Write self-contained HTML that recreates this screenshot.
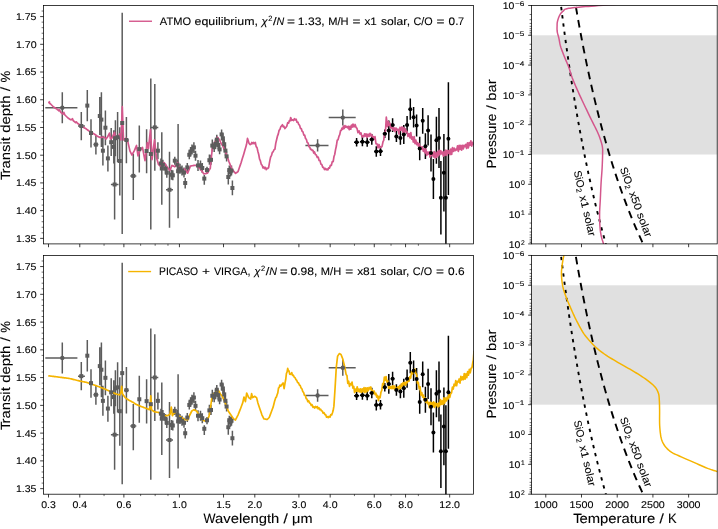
<!DOCTYPE html>
<html><head><meta charset="utf-8"><style>
html,body{margin:0;padding:0;background:#fff;}
svg{display:block;filter:blur(0.35px);}
text{font-family:"Liberation Sans", sans-serif;fill:#000;text-rendering:geometricPrecision;stroke:#000;stroke-width:0.1px;}
</style></head><body>
<svg width="718" height="529" viewBox="0 0 718 529">
<rect width="718" height="529" fill="#fff"/>
<rect x="531.50" y="35.30" width="185.70" height="119.20" fill="#e0e0e0"/>
<rect x="531.50" y="285.29" width="185.70" height="119.38" fill="#e0e0e0"/>
<defs>
<clipPath id="ctl"><rect x="43.50" y="5.50" width="430.00" height="238.40"/></clipPath>
<clipPath id="cbl"><rect x="43.50" y="255.45" width="430.00" height="238.75"/></clipPath>
<clipPath id="ctr"><rect x="531.50" y="5.50" width="185.70" height="238.40"/></clipPath>
<clipPath id="cbr"><rect x="531.50" y="255.45" width="185.70" height="238.75"/></clipPath>
</defs>
<g clip-path="url(#ctr)">
<path d="M560.98,5.50 L561.17,6.99 L561.35,8.48 L561.54,9.97 L561.73,11.46 L561.91,12.95 L562.10,14.44 L562.29,15.93 L562.49,17.42 L562.68,18.91 L562.87,20.40 L563.06,21.89 L563.26,23.38 L563.45,24.87 L563.65,26.36 L563.84,27.85 L564.04,29.34 L564.24,30.83 L564.44,32.32 L564.64,33.81 L564.84,35.30 L565.04,36.79 L565.25,38.28 L565.45,39.77 L565.66,41.26 L565.86,42.75 L566.07,44.24 L566.28,45.73 L566.48,47.22 L566.69,48.71 L566.90,50.20 L567.12,51.69 L567.33,53.18 L567.54,54.67 L567.76,56.16 L567.97,57.65 L568.19,59.14 L568.41,60.63 L568.62,62.12 L568.84,63.61 L569.06,65.10 L569.28,66.59 L569.51,68.08 L569.73,69.57 L569.96,71.06 L570.18,72.55 L570.41,74.04 L570.64,75.53 L570.86,77.02 L571.09,78.51 L571.33,80.00 L571.56,81.49 L571.79,82.98 L572.02,84.47 L572.26,85.96 L572.50,87.45 L572.73,88.94 L572.97,90.43 L573.21,91.92 L573.46,93.41 L573.70,94.90 L573.94,96.39 L574.19,97.88 L574.43,99.37 L574.68,100.86 L574.93,102.35 L575.18,103.84 L575.43,105.33 L575.68,106.82 L575.93,108.31 L576.19,109.80 L576.45,111.29 L576.70,112.78 L576.96,114.27 L577.22,115.76 L577.48,117.25 L577.74,118.74 L578.01,120.23 L578.27,121.72 L578.54,123.21 L578.81,124.70 L579.08,126.19 L579.35,127.68 L579.62,129.17 L579.89,130.66 L580.17,132.15 L580.45,133.64 L580.72,135.13 L581.00,136.62 L581.28,138.11 L581.57,139.60 L581.85,141.09 L582.14,142.58 L582.42,144.07 L582.71,145.56 L583.00,147.05 L583.29,148.54 L583.59,150.03 L583.88,151.52 L584.18,153.01 L584.47,154.50 L584.77,155.99 L585.08,157.48 L585.38,158.97 L585.68,160.46 L585.99,161.95 L586.30,163.44 L586.61,164.93 L586.92,166.42 L587.23,167.91 L587.54,169.40 L587.86,170.89 L588.18,172.38 L588.50,173.87 L588.82,175.36 L589.14,176.85 L589.47,178.34 L589.80,179.83 L590.13,181.32 L590.46,182.81 L590.79,184.30 L591.13,185.79 L591.46,187.28 L591.80,188.77 L592.14,190.26 L592.48,191.75 L592.83,193.24 L593.18,194.73 L593.52,196.22 L593.88,197.71 L594.23,199.20 L594.58,200.69 L594.94,202.18 L595.30,203.67 L595.66,205.16 L596.02,206.65 L596.39,208.14 L596.76,209.63 L597.13,211.12 L597.50,212.61 L597.88,214.10 L598.25,215.59 L598.63,217.08 L599.01,218.57 L599.40,220.06 L599.78,221.55 L600.17,223.04 L600.56,224.53 L600.96,226.02 L601.35,227.51 L601.75,229.00 L602.15,230.49 L602.56,231.98 L602.96,233.47 L603.37,234.96 L603.78,236.45 L604.20,237.94 L604.61,239.43 L605.03,240.92 L605.45,242.41 L605.88,243.90" fill="none" stroke="#000" stroke-width="1.90" stroke-linejoin="round" stroke-dasharray="3.4 4.9" stroke-dashoffset="6.9"/>
<path d="M575.67,5.50 L575.92,6.99 L576.18,8.48 L576.43,9.97 L576.69,11.46 L576.95,12.95 L577.21,14.44 L577.47,15.93 L577.74,17.42 L578.00,18.91 L578.26,20.40 L578.53,21.89 L578.80,23.38 L579.07,24.87 L579.34,26.36 L579.61,27.85 L579.89,29.34 L580.16,30.83 L580.44,32.32 L580.72,33.81 L581.00,35.30 L581.28,36.79 L581.56,38.28 L581.84,39.77 L582.13,41.26 L582.42,42.75 L582.71,44.24 L583.00,45.73 L583.29,47.22 L583.58,48.71 L583.88,50.20 L584.17,51.69 L584.47,53.18 L584.77,54.67 L585.07,56.16 L585.38,57.65 L585.68,59.14 L585.99,60.63 L586.29,62.12 L586.60,63.61 L586.92,65.10 L587.23,66.59 L587.54,68.08 L587.86,69.57 L588.18,71.06 L588.50,72.55 L588.82,74.04 L589.15,75.53 L589.47,77.02 L589.80,78.51 L590.13,80.00 L590.46,81.49 L590.79,82.98 L591.13,84.47 L591.47,85.96 L591.80,87.45 L592.15,88.94 L592.49,90.43 L592.83,91.92 L593.18,93.41 L593.53,94.90 L593.88,96.39 L594.23,97.88 L594.59,99.37 L594.95,100.86 L595.31,102.35 L595.67,103.84 L596.03,105.33 L596.40,106.82 L596.77,108.31 L597.14,109.80 L597.51,111.29 L597.89,112.78 L598.26,114.27 L598.64,115.76 L599.02,117.25 L599.41,118.74 L599.80,120.23 L600.18,121.72 L600.58,123.21 L600.97,124.70 L601.37,126.19 L601.77,127.68 L602.17,129.17 L602.57,130.66 L602.98,132.15 L603.39,133.64 L603.80,135.13 L604.21,136.62 L604.63,138.11 L605.05,139.60 L605.47,141.09 L605.90,142.58 L606.33,144.07 L606.76,145.56 L607.19,147.05 L607.63,148.54 L608.07,150.03 L608.51,151.52 L608.95,153.01 L609.40,154.50 L609.85,155.99 L610.31,157.48 L610.76,158.97 L611.22,160.46 L611.69,161.95 L612.15,163.44 L612.62,164.93 L613.10,166.42 L613.57,167.91 L614.05,169.40 L614.54,170.89 L615.02,172.38 L615.51,173.87 L616.00,175.36 L616.50,176.85 L617.00,178.34 L617.50,179.83 L618.01,181.32 L618.52,182.81 L619.04,184.30 L619.55,185.79 L620.08,187.28 L620.60,188.77 L621.13,190.26 L621.66,191.75 L622.20,193.24 L622.74,194.73 L623.29,196.22 L623.84,197.71 L624.39,199.20 L624.95,200.69 L625.51,202.18 L626.07,203.67 L626.64,205.16 L627.22,206.65 L627.79,208.14 L628.38,209.63 L628.96,211.12 L629.56,212.61 L630.15,214.10 L630.75,215.59 L631.36,217.08 L631.97,218.57 L632.58,220.06 L633.20,221.55 L633.83,223.04 L634.46,224.53 L635.09,226.02 L635.73,227.51 L636.38,229.00 L637.03,230.49 L637.68,231.98 L638.34,233.47 L639.01,234.96 L639.68,236.45 L640.35,237.94 L641.04,239.43 L641.72,240.92 L642.42,242.41 L643.12,243.90" fill="none" stroke="#000" stroke-width="1.90" stroke-linejoin="round" stroke-dasharray="7.6 5.6" stroke-dashoffset="11.7"/>
<path d="M640.00,2.50 L636.67,2.75 L632.09,3.09 L626.62,3.49 L620.62,3.94 L614.46,4.40 L608.48,4.84 L603.04,5.25 L598.50,5.60 L594.74,5.89 L591.36,6.15 L588.32,6.38 L585.56,6.60 L583.05,6.80 L580.73,7.00 L578.57,7.20 L576.50,7.40 L574.58,7.60 L572.88,7.78 L571.37,7.96 L570.04,8.14 L568.85,8.31 L567.80,8.50 L566.86,8.69 L566.00,8.90 L565.29,9.13 L564.79,9.36 L564.43,9.61 L564.18,9.87 L564.00,10.13 L563.84,10.39 L563.65,10.65 L563.40,10.90 L563.10,11.15 L562.81,11.38 L562.52,11.62 L562.24,11.86 L561.97,12.10 L561.71,12.35 L561.45,12.62 L561.20,12.90 L560.96,13.20 L560.73,13.51 L560.51,13.83 L560.29,14.17 L560.09,14.51 L559.89,14.87 L559.69,15.23 L559.50,15.60 L559.32,15.98 L559.14,16.38 L558.97,16.79 L558.80,17.21 L558.64,17.63 L558.49,18.05 L558.34,18.48 L558.20,18.90 L558.06,19.32 L557.93,19.75 L557.80,20.18 L557.68,20.61 L557.57,21.04 L557.47,21.46 L557.38,21.88 L557.30,22.30 L557.24,22.69 L557.19,23.05 L557.16,23.39 L557.14,23.74 L557.12,24.10 L557.11,24.51 L557.11,24.97 L557.10,25.50 L557.09,26.11 L557.07,26.78 L557.05,27.51 L557.03,28.27 L557.03,29.07 L557.06,29.88 L557.11,30.69 L557.20,31.50 L557.34,32.31 L557.52,33.15 L557.74,34.00 L557.98,34.86 L558.22,35.72 L558.47,36.59 L558.70,37.45 L558.90,38.30 L559.08,39.15 L559.25,40.02 L559.40,40.89 L559.56,41.76 L559.71,42.62 L559.86,43.45 L560.03,44.24 L560.20,45.00 L560.37,45.68 L560.54,46.29 L560.71,46.86 L560.88,47.41 L561.07,47.97 L561.28,48.56 L561.52,49.23 L561.80,50.00 L562.12,50.87 L562.48,51.82 L562.87,52.83 L563.27,53.88 L563.70,54.96 L564.13,56.05 L564.57,57.14 L565.00,58.20 L565.44,59.26 L565.90,60.33 L566.38,61.42 L566.86,62.51 L567.33,63.59 L567.78,64.65 L568.21,65.69 L568.60,66.70 L568.95,67.67 L569.26,68.61 L569.54,69.53 L569.81,70.43 L570.07,71.32 L570.33,72.20 L570.60,73.10 L570.90,74.00 L571.20,74.87 L571.48,75.70 L571.76,76.50 L572.04,77.31 L572.36,78.16 L572.71,79.09 L573.12,80.12 L573.60,81.30 L574.16,82.64 L574.79,84.13 L575.48,85.73 L576.21,87.40 L576.97,89.11 L577.73,90.82 L578.48,92.50 L579.20,94.10 L579.91,95.65 L580.62,97.18 L581.33,98.69 L582.04,100.20 L582.76,101.70 L583.47,103.20 L584.19,104.70 L584.90,106.20 L585.61,107.70 L586.31,109.19 L587.01,110.67 L587.71,112.16 L588.41,113.65 L589.13,115.15 L589.85,116.66 L590.60,118.20 L591.39,119.79 L592.22,121.44 L593.08,123.13 L593.94,124.82 L594.79,126.48 L595.59,128.08 L596.34,129.60 L597.00,131.00 L597.58,132.28 L598.09,133.45 L598.56,134.55 L598.98,135.58 L599.36,136.57 L599.72,137.55 L600.06,138.51 L600.40,139.50 L600.73,140.49 L601.04,141.45 L601.33,142.40 L601.60,143.33 L601.84,144.25 L602.06,145.17 L602.25,146.08 L602.40,147.00 L602.52,147.87 L602.59,148.66 L602.64,149.41 L602.66,150.18 L602.66,151.00 L602.64,151.91 L602.62,152.97 L602.60,154.20 L602.57,155.64 L602.54,157.26 L602.49,159.01 L602.43,160.86 L602.35,162.77 L602.28,164.69 L602.19,166.58 L602.10,168.40 L602.00,170.16 L601.88,171.88 L601.75,173.60 L601.62,175.33 L601.48,177.07 L601.35,178.85 L601.22,180.69 L601.10,182.60 L600.99,184.61 L600.88,186.72 L600.78,188.90 L600.68,191.11 L600.58,193.32 L600.49,195.50 L600.39,197.60 L600.30,199.60 L600.20,201.50 L600.09,203.32 L599.98,205.09 L599.88,206.81 L599.78,208.51 L599.70,210.20 L599.63,211.89 L599.60,213.60 L599.59,215.35 L599.60,217.13 L599.63,218.93 L599.68,220.71 L599.74,222.45 L599.81,224.13 L599.90,225.72 L600.00,227.20 L600.11,228.56 L600.24,229.83 L600.38,231.01 L600.53,232.12 L600.70,233.20 L600.88,234.24 L601.08,235.27 L601.30,236.30 L601.55,237.36 L601.84,238.43 L602.15,239.50 L602.48,240.54 L602.80,241.52 L603.10,242.42 L603.37,243.22 L603.60,243.90 L603.79,244.44 L603.94,244.86 L604.08,245.18 L604.19,245.42 L604.29,245.61 L604.37,245.75 L604.44,245.88 L604.50,246.00" fill="none" stroke="#d4578c" stroke-width="1.50" stroke-linejoin="round"/>
</g>
<g clip-path="url(#cbr)">
<path d="M560.98,255.45 L561.17,256.94 L561.35,258.43 L561.54,259.93 L561.73,261.42 L561.91,262.91 L562.10,264.40 L562.29,265.90 L562.49,267.39 L562.68,268.88 L562.87,270.37 L563.06,271.86 L563.26,273.36 L563.45,274.85 L563.65,276.34 L563.84,277.83 L564.04,279.32 L564.24,280.82 L564.44,282.31 L564.64,283.80 L564.84,285.29 L565.04,286.79 L565.25,288.28 L565.45,289.77 L565.66,291.26 L565.86,292.75 L566.07,294.25 L566.28,295.74 L566.48,297.23 L566.69,298.72 L566.90,300.22 L567.12,301.71 L567.33,303.20 L567.54,304.69 L567.76,306.18 L567.97,307.68 L568.19,309.17 L568.41,310.66 L568.62,312.15 L568.84,313.65 L569.06,315.14 L569.28,316.63 L569.51,318.12 L569.73,319.61 L569.96,321.11 L570.18,322.60 L570.41,324.09 L570.64,325.58 L570.86,327.07 L571.09,328.57 L571.33,330.06 L571.56,331.55 L571.79,333.04 L572.02,334.54 L572.26,336.03 L572.50,337.52 L572.73,339.01 L572.97,340.50 L573.21,342.00 L573.46,343.49 L573.70,344.98 L573.94,346.47 L574.19,347.97 L574.43,349.46 L574.68,350.95 L574.93,352.44 L575.18,353.93 L575.43,355.43 L575.68,356.92 L575.93,358.41 L576.19,359.90 L576.45,361.40 L576.70,362.89 L576.96,364.38 L577.22,365.87 L577.48,367.36 L577.74,368.86 L578.01,370.35 L578.27,371.84 L578.54,373.33 L578.81,374.82 L579.08,376.32 L579.35,377.81 L579.62,379.30 L579.89,380.79 L580.17,382.29 L580.45,383.78 L580.72,385.27 L581.00,386.76 L581.28,388.25 L581.57,389.75 L581.85,391.24 L582.14,392.73 L582.42,394.22 L582.71,395.72 L583.00,397.21 L583.29,398.70 L583.59,400.19 L583.88,401.68 L584.18,403.18 L584.47,404.67 L584.77,406.16 L585.08,407.65 L585.38,409.15 L585.68,410.64 L585.99,412.13 L586.30,413.62 L586.61,415.11 L586.92,416.61 L587.23,418.10 L587.54,419.59 L587.86,421.08 L588.18,422.58 L588.50,424.07 L588.82,425.56 L589.14,427.05 L589.47,428.54 L589.80,430.04 L590.13,431.53 L590.46,433.02 L590.79,434.51 L591.13,436.00 L591.46,437.50 L591.80,438.99 L592.14,440.48 L592.48,441.97 L592.83,443.47 L593.18,444.96 L593.52,446.45 L593.88,447.94 L594.23,449.43 L594.58,450.93 L594.94,452.42 L595.30,453.91 L595.66,455.40 L596.02,456.90 L596.39,458.39 L596.76,459.88 L597.13,461.37 L597.50,462.86 L597.88,464.36 L598.25,465.85 L598.63,467.34 L599.01,468.83 L599.40,470.32 L599.78,471.82 L600.17,473.31 L600.56,474.80 L600.96,476.29 L601.35,477.79 L601.75,479.28 L602.15,480.77 L602.56,482.26 L602.96,483.75 L603.37,485.25 L603.78,486.74 L604.20,488.23 L604.61,489.72 L605.03,491.22 L605.45,492.71 L605.88,494.20" fill="none" stroke="#000" stroke-width="1.90" stroke-linejoin="round" stroke-dasharray="3.4 4.9" stroke-dashoffset="6.9"/>
<path d="M575.67,255.45 L575.92,256.94 L576.18,258.43 L576.43,259.93 L576.69,261.42 L576.95,262.91 L577.21,264.40 L577.47,265.90 L577.74,267.39 L578.00,268.88 L578.26,270.37 L578.53,271.86 L578.80,273.36 L579.07,274.85 L579.34,276.34 L579.61,277.83 L579.89,279.32 L580.16,280.82 L580.44,282.31 L580.72,283.80 L581.00,285.29 L581.28,286.79 L581.56,288.28 L581.84,289.77 L582.13,291.26 L582.42,292.75 L582.71,294.25 L583.00,295.74 L583.29,297.23 L583.58,298.72 L583.88,300.22 L584.17,301.71 L584.47,303.20 L584.77,304.69 L585.07,306.18 L585.38,307.68 L585.68,309.17 L585.99,310.66 L586.29,312.15 L586.60,313.65 L586.92,315.14 L587.23,316.63 L587.54,318.12 L587.86,319.61 L588.18,321.11 L588.50,322.60 L588.82,324.09 L589.15,325.58 L589.47,327.07 L589.80,328.57 L590.13,330.06 L590.46,331.55 L590.79,333.04 L591.13,334.54 L591.47,336.03 L591.80,337.52 L592.15,339.01 L592.49,340.50 L592.83,342.00 L593.18,343.49 L593.53,344.98 L593.88,346.47 L594.23,347.97 L594.59,349.46 L594.95,350.95 L595.31,352.44 L595.67,353.93 L596.03,355.43 L596.40,356.92 L596.77,358.41 L597.14,359.90 L597.51,361.40 L597.89,362.89 L598.26,364.38 L598.64,365.87 L599.02,367.36 L599.41,368.86 L599.80,370.35 L600.18,371.84 L600.58,373.33 L600.97,374.82 L601.37,376.32 L601.77,377.81 L602.17,379.30 L602.57,380.79 L602.98,382.29 L603.39,383.78 L603.80,385.27 L604.21,386.76 L604.63,388.25 L605.05,389.75 L605.47,391.24 L605.90,392.73 L606.33,394.22 L606.76,395.72 L607.19,397.21 L607.63,398.70 L608.07,400.19 L608.51,401.68 L608.95,403.18 L609.40,404.67 L609.85,406.16 L610.31,407.65 L610.76,409.15 L611.22,410.64 L611.69,412.13 L612.15,413.62 L612.62,415.11 L613.10,416.61 L613.57,418.10 L614.05,419.59 L614.54,421.08 L615.02,422.58 L615.51,424.07 L616.00,425.56 L616.50,427.05 L617.00,428.54 L617.50,430.04 L618.01,431.53 L618.52,433.02 L619.04,434.51 L619.55,436.00 L620.08,437.50 L620.60,438.99 L621.13,440.48 L621.66,441.97 L622.20,443.47 L622.74,444.96 L623.29,446.45 L623.84,447.94 L624.39,449.43 L624.95,450.93 L625.51,452.42 L626.07,453.91 L626.64,455.40 L627.22,456.90 L627.79,458.39 L628.38,459.88 L628.96,461.37 L629.56,462.86 L630.15,464.36 L630.75,465.85 L631.36,467.34 L631.97,468.83 L632.58,470.32 L633.20,471.82 L633.83,473.31 L634.46,474.80 L635.09,476.29 L635.73,477.79 L636.38,479.28 L637.03,480.77 L637.68,482.26 L638.34,483.75 L639.01,485.25 L639.68,486.74 L640.35,488.23 L641.04,489.72 L641.72,491.22 L642.42,492.71 L643.12,494.20" fill="none" stroke="#000" stroke-width="1.90" stroke-linejoin="round" stroke-dasharray="7.6 5.6" stroke-dashoffset="11.7"/>
<path d="M566.50,250.00 L566.30,250.38 L566.02,250.84 L565.69,251.38 L565.33,252.00 L564.95,252.72 L564.57,253.53 L564.21,254.44 L563.90,255.45 L563.61,256.62 L563.32,257.98 L563.04,259.47 L562.76,261.03 L562.51,262.62 L562.27,264.18 L562.07,265.66 L561.90,267.00 L561.76,268.19 L561.65,269.27 L561.55,270.28 L561.49,271.26 L561.45,272.23 L561.44,273.24 L561.45,274.32 L561.50,275.50 L561.57,276.79 L561.67,278.15 L561.80,279.57 L561.95,281.03 L562.13,282.50 L562.35,283.99 L562.61,285.46 L562.90,286.90 L563.24,288.32 L563.61,289.73 L564.03,291.14 L564.48,292.55 L564.96,293.96 L565.46,295.37 L565.97,296.78 L566.50,298.20 L567.05,299.63 L567.64,301.07 L568.25,302.51 L568.88,303.96 L569.51,305.39 L570.15,306.82 L570.78,308.22 L571.40,309.60 L571.99,310.93 L572.54,312.20 L573.08,313.43 L573.63,314.66 L574.20,315.91 L574.81,317.20 L575.47,318.55 L576.20,320.00 L577.00,321.56 L577.84,323.21 L578.73,324.94 L579.66,326.71 L580.64,328.48 L581.65,330.24 L582.71,331.96 L583.80,333.60 L584.95,335.19 L586.16,336.77 L587.43,338.34 L588.73,339.87 L590.05,341.36 L591.38,342.80 L592.70,344.19 L594.00,345.50 L595.25,346.72 L596.45,347.84 L597.64,348.90 L598.83,349.91 L600.07,350.90 L601.37,351.89 L602.77,352.92 L604.30,354.00 L605.98,355.14 L607.81,356.33 L609.75,357.53 L611.74,358.75 L613.77,359.96 L615.78,361.15 L617.73,362.30 L619.60,363.40 L621.39,364.44 L623.16,365.45 L624.90,366.42 L626.61,367.36 L628.30,368.29 L629.96,369.22 L631.59,370.15 L633.20,371.10 L634.79,372.05 L636.35,373.00 L637.90,373.95 L639.41,374.90 L640.90,375.85 L642.34,376.80 L643.74,377.75 L645.10,378.70 L646.43,379.66 L647.75,380.64 L649.05,381.62 L650.30,382.60 L651.49,383.57 L652.60,384.54 L653.61,385.48 L654.50,386.40 L655.27,387.29 L655.93,388.16 L656.50,389.02 L656.98,389.86 L657.40,390.69 L657.76,391.52 L658.09,392.36 L658.40,393.20 L658.66,394.03 L658.85,394.82 L658.98,395.61 L659.07,396.40 L659.14,397.22 L659.19,398.07 L659.24,399.00 L659.30,400.00 L659.37,401.05 L659.42,402.10 L659.46,403.19 L659.49,404.33 L659.52,405.56 L659.55,406.90 L659.57,408.37 L659.60,410.00 L659.61,411.85 L659.60,413.93 L659.58,416.17 L659.56,418.50 L659.56,420.86 L659.59,423.20 L659.67,425.43 L659.80,427.50 L659.97,429.45 L660.15,431.36 L660.36,433.21 L660.61,435.01 L660.92,436.75 L661.29,438.41 L661.75,440.00 L662.30,441.50 L662.95,442.91 L663.70,444.25 L664.52,445.50 L665.42,446.69 L666.37,447.80 L667.38,448.86 L668.42,449.86 L669.50,450.80 L670.61,451.66 L671.76,452.41 L672.96,453.09 L674.20,453.71 L675.49,454.31 L676.84,454.91 L678.24,455.53 L679.70,456.20 L681.24,456.91 L682.86,457.64 L684.55,458.37 L686.29,459.11 L688.05,459.86 L689.82,460.61 L691.58,461.35 L693.30,462.10 L695.02,462.86 L696.78,463.65 L698.55,464.46 L700.31,465.26 L702.04,466.04 L703.73,466.78 L705.36,467.47 L706.90,468.10 L708.36,468.66 L709.77,469.15 L711.11,469.60 L712.41,470.02 L713.67,470.41 L714.88,470.77 L716.05,471.14 L717.20,471.50 L718.35,471.87 L719.51,472.25 L720.65,472.61 L721.74,472.96 L722.76,473.29 L723.66,473.57 L724.42,473.81 L725.00,474.00" fill="none" stroke="#f5b400" stroke-width="1.50" stroke-linejoin="round"/>
</g>
<g transform="translate(573.70,171.20) rotate(77.00)">
<text x="0.21" y="0.00" font-size="10.66" textLength="17.34" lengthAdjust="spacingAndGlyphs">SiO</text>
<text x="17.89" y="1.64" font-size="7.46" textLength="4.09" lengthAdjust="spacingAndGlyphs">2</text>
<text x="26.10" y="0.00" font-size="10.66" textLength="12.18" lengthAdjust="spacingAndGlyphs">x1</text>
<text x="42.22" y="0.00" font-size="10.66" textLength="25.18" lengthAdjust="spacingAndGlyphs">solar</text>
</g>
<g transform="translate(619.80,168.60) rotate(69.60)">
<text x="0.21" y="0.00" font-size="10.66" textLength="17.34" lengthAdjust="spacingAndGlyphs">SiO</text>
<text x="17.89" y="1.64" font-size="7.46" textLength="4.09" lengthAdjust="spacingAndGlyphs">2</text>
<text x="26.10" y="0.00" font-size="10.66" textLength="18.92" lengthAdjust="spacingAndGlyphs">x50</text>
<text x="48.82" y="0.00" font-size="10.66" textLength="25.18" lengthAdjust="spacingAndGlyphs">solar</text>
</g>
<g transform="translate(573.70,421.15) rotate(77.00)">
<text x="0.21" y="0.00" font-size="10.66" textLength="17.34" lengthAdjust="spacingAndGlyphs">SiO</text>
<text x="17.89" y="1.64" font-size="7.46" textLength="4.09" lengthAdjust="spacingAndGlyphs">2</text>
<text x="26.10" y="0.00" font-size="10.66" textLength="12.18" lengthAdjust="spacingAndGlyphs">x1</text>
<text x="42.22" y="0.00" font-size="10.66" textLength="25.18" lengthAdjust="spacingAndGlyphs">solar</text>
</g>
<g transform="translate(619.80,418.55) rotate(69.60)">
<text x="0.21" y="0.00" font-size="10.66" textLength="17.34" lengthAdjust="spacingAndGlyphs">SiO</text>
<text x="17.89" y="1.64" font-size="7.46" textLength="4.09" lengthAdjust="spacingAndGlyphs">2</text>
<text x="26.10" y="0.00" font-size="10.66" textLength="18.92" lengthAdjust="spacingAndGlyphs">x50</text>
<text x="48.82" y="0.00" font-size="10.66" textLength="25.18" lengthAdjust="spacingAndGlyphs">solar</text>
</g>
<g clip-path="url(#ctl)">
<path d="M62.30,92.30V123.30M45.30,107.80H77.40M81.30,111.90V140.20M78.00,126.00H84.90M87.30,90.00V121.30M91.00,119.20V147.50M95.90,135.50V154.50M93.40,144.60H98.40M99.80,97.10V135.00M101.40,92.30V147.00M102.90,135.70V165.60M105.40,110.40V145.20M107.90,145.50V171.50M111.20,128.10V156.00M113.80,130.20V163.50M114.60,149.60V219.40M110.90,184.50H118.50M115.40,120.20V156.20M117.60,112.10V162.30M119.80,127.20V195.50M122.20,12.80V233.90M126.40,117.00V163.20M124.00,140.00H128.80M133.30,153.80V200.00M130.30,175.90H136.30M139.30,125.50V172.60M146.60,129.20V173.30M150.80,78.40V229.40M154.80,84.10V170.70M151.50,127.40H158.30M157.90,142.30V159.30M160.90,158.50V168.50M161.80,132.30V204.80M162.90,159.80V169.80M165.50,163.70V173.70M166.80,167.70V177.70M169.50,151.80V227.80M166.00,189.80H173.00M171.50,169.70V179.70M172.80,170.30V180.30M174.80,156.70V164.70M177.40,159.70V169.70M178.10,124.10V218.30M180.00,163.70V173.70M182.00,165.60V175.60M184.00,167.60V177.60M185.20,177.90V188.40M187.30,162.90V171.90M189.30,150.30V159.30M190.60,147.00V156.00M192.00,144.60V154.60M193.90,142.20V153.00M195.50,150.70V160.70M198.00,160.00V171.00M200.50,160.50V170.50M202.30,163.00V173.00M204.30,175.00V184.80M207.00,166.80V174.10M209.40,154.60V164.80M211.00,154.80V164.80M212.30,139.50V151.60M214.20,142.50V152.00M215.50,139.00V148.60M216.80,134.80V144.40M218.20,140.50V149.50M219.60,144.60V154.20M221.60,129.50V140.30M222.90,133.30V143.30M224.20,139.20V149.20M225.40,145.60V155.60M226.60,151.40V161.40M228.30,169.50V184.50M229.30,165.50V174.50M230.50,166.50V176.50M231.50,165.60V175.60M232.40,180.50V195.30M317.60,139.20V151.60M305.40,145.40H328.50M342.80,109.60V125.50M328.70,117.60H355.70" stroke="#5c5c5c" stroke-width="1.50" fill="none"/>
<path d="M356.60,138.00V146.40M354.05,142.20H359.15M362.40,137.20V146.20M359.98,141.70H364.82M367.20,137.70V146.70M364.89,142.20H369.51M371.80,134.10V144.70M369.58,139.40H374.02M376.30,146.20V156.80M374.17,151.50H378.43M380.50,146.40V156.00M378.45,151.20H382.55M384.80,129.50V137.90M382.83,133.70H386.77M388.80,120.60V140.20M386.90,130.40H390.70M392.60,118.30V131.90M390.77,125.10H394.43M396.40,130.70V142.10M394.63,136.40H398.17M400.40,131.10V144.70M398.70,137.90H402.10M403.80,125.10V144.10M402.15,134.60H405.45M407.10,116.10V134.10M405.50,125.10H408.70M410.30,98.60V119.80M408.74,109.20H411.86M413.60,107.00V127.40M412.09,117.20H415.11M416.60,114.50V136.50M415.13,125.50H418.07M419.70,136.80V160.20M418.27,148.50H421.13M422.70,107.90V133.70M421.31,120.80H424.09M425.40,133.30V159.10M424.05,146.20H426.75M428.10,115.30V145.50M426.78,130.40H429.42M431.00,134.60V171.60M429.71,153.10H432.29M433.40,158.90V198.90M432.14,178.90H434.66M436.40,116.70V163.70M435.18,140.20H437.62M439.00,107.90V167.90M437.81,137.90H440.19M440.90,161.00V234.40M439.73,197.70H442.07M443.90,134.00V211.60M442.76,172.80H445.04M445.90,151.70V243.70M444.78,197.70H447.02M448.40,82.30V195.10M447.30,138.70H449.50" stroke="#000" stroke-width="1.50" fill="none"/>
<path d="M49.80,101.30 L48.90,102.50 L49.75,103.25 L50.60,104.00 L51.35,104.75 L52.10,105.50 L52.85,106.25 L53.60,107.00 L54.35,107.48 L55.10,107.95 L55.85,108.43 L56.60,108.90 L57.37,109.53 L58.13,110.17 L58.90,110.80 L59.30,109.70 L60.20,111.20 L61.10,112.70 L62.05,113.45 L63.00,114.20 L63.80,112.30 L64.90,115.00 L65.68,115.75 L66.45,116.50 L67.22,117.25 L68.00,118.00 L68.75,118.48 L69.50,118.95 L70.25,119.43 L71.00,119.90 L71.75,119.30 L72.50,118.70 L73.20,120.60 L73.97,121.23 L74.73,121.87 L75.50,122.50 L76.30,121.80 L77.05,122.70 L77.80,123.60 L78.55,124.00 L79.30,124.40 L80.05,124.95 L80.80,125.50 L81.53,126.00 L82.27,126.50 L83.00,127.00 L83.75,127.45 L84.50,127.90 L85.25,128.35 L86.00,128.80 L86.80,129.38 L87.60,129.96 L88.40,130.54 L89.20,131.12 L90.00,131.70 L90.83,132.17 L91.67,132.63 L92.50,133.10 L93.33,133.57 L94.17,134.03 L95.00,134.50 L96.00,135.25 L97.00,136.00 L97.75,136.38 L98.50,136.75 L99.25,137.13 L100.00,137.50 L100.80,137.40 L101.60,137.30 L102.40,137.20 L103.20,137.10 L104.00,137.00 L105.00,138.00 L106.00,139.00 L106.75,138.00 L107.50,137.00 L108.50,135.05 L109.50,133.10 L110.50,139.00 L111.25,138.50 L112.00,138.00 L112.83,136.10 L113.67,134.20 L114.50,132.30 L115.50,139.00 L116.25,138.75 L117.00,138.50 L117.93,137.00 L118.87,135.50 L119.80,134.00 L121.00,140.00 L121.65,123.35 L122.30,106.70 L123.50,140.00 L124.33,139.40 L125.17,138.80 L126.00,138.20 L126.75,139.25 L127.50,140.30 L128.33,143.93 L129.17,147.57 L130.00,151.20 L131.00,153.10 L132.00,155.00 L132.83,153.43 L133.67,151.87 L134.50,150.30 L135.50,147.90 L136.50,145.50 L137.25,150.75 L138.00,156.00 L139.00,153.15 L140.00,150.30 L140.83,149.33 L141.67,148.37 L142.50,147.40 L143.33,151.83 L144.17,156.27 L145.00,160.70 L145.77,154.70 L146.53,148.70 L147.30,142.70 L148.50,148.40 L149.50,138.95 L150.50,129.50 L151.25,144.60 L152.00,159.70 L152.83,153.10 L153.67,146.50 L154.50,139.90 L155.50,148.85 L156.50,157.80 L157.50,161.10 L158.50,164.40 L159.50,165.35 L160.50,166.30 L161.50,164.90 L162.50,163.50 L163.35,163.05 L164.20,162.60 L165.13,164.00 L166.07,165.40 L167.00,166.80 L167.97,168.00 L168.93,169.20 L169.90,170.40 L170.95,167.90 L172.00,165.40 L172.93,165.87 L173.87,166.33 L174.80,166.80 L175.77,165.40 L176.73,164.00 L177.70,162.60 L178.63,165.40 L179.57,168.20 L180.50,171.00 L181.36,170.58 L182.22,170.16 L183.08,169.74 L183.94,169.32 L184.80,168.90 L185.73,170.33 L186.67,171.77 L187.60,173.20 L188.53,170.83 L189.47,168.47 L190.40,166.10 L191.30,165.92 L192.20,165.75 L193.10,165.57 L194.00,165.40 L194.93,165.40 L195.87,165.40 L196.80,165.40 L197.70,166.27 L198.60,167.15 L199.50,168.02 L200.40,168.90 L201.28,170.15 L202.15,171.40 L203.03,172.65 L203.90,173.90 L204.78,173.72 L205.65,173.55 L206.53,173.37 L207.40,173.20 L208.37,171.53 L209.33,169.87 L210.30,168.20 L211.00,160.50 L211.75,153.75 L212.50,147.00 L213.33,145.37 L214.17,143.73 L215.00,142.10 L215.83,140.47 L216.67,138.83 L217.50,137.20 L218.50,138.45 L219.50,139.70 L220.25,141.50 L221.00,143.30 L222.00,144.85 L223.00,146.40 L223.75,148.10 L224.50,149.80 L225.25,151.50 L226.00,153.20 L226.75,155.35 L227.50,157.50 L228.25,159.65 L229.00,161.80 L229.75,163.63 L230.50,165.45 L231.25,167.28 L232.00,169.10 L232.88,170.18 L233.75,171.25 L234.62,172.33 L235.50,173.40 L236.33,172.80 L237.17,172.20 L238.00,171.60 L238.75,169.45 L239.50,167.30 L240.25,165.15 L241.00,163.00 L241.75,160.55 L242.50,158.10 L243.25,155.65 L244.00,153.20 L244.83,150.33 L245.67,147.47 L246.50,144.60 L247.50,138.40 L248.25,140.85 L249.00,143.30 L250.00,144.60 L250.93,144.28 L251.87,142.40 L252.80,143.71 L253.63,142.49 L254.47,143.65 L255.30,142.50 L256.17,146.63 L257.03,147.63 L257.90,151.54 L258.73,154.52 L259.57,159.09 L260.40,160.92 L261.27,164.38 L262.13,165.28 L263.00,168.00 L263.83,166.93 L264.67,168.58 L265.50,167.50 L266.27,169.58 L267.05,168.27 L267.83,168.55 L268.60,167.61 L269.80,160.89 L270.63,157.00 L271.47,155.63 L272.30,152.43 L273.17,151.75 L274.03,149.76 L274.90,149.29 L275.75,143.40 L276.60,139.78 L277.43,136.19 L278.27,134.10 L279.10,130.29 L279.97,129.34 L280.83,126.73 L281.70,125.89 L282.43,124.76 L283.17,126.83 L283.90,126.26 L284.95,128.59 L286.00,127.29 L286.85,126.02 L287.70,122.72 L288.55,123.22 L289.40,120.64 L290.05,120.89 L290.70,117.53 L291.75,120.33 L292.80,119.78 L293.63,120.49 L294.47,118.73 L295.30,119.93 L296.15,119.20 L297.00,122.16 L297.87,122.16 L298.73,124.48 L299.60,125.31 L300.43,128.38 L301.27,128.60 L302.10,131.22 L302.97,131.90 L303.83,135.15 L304.70,135.18 L305.53,138.49 L306.37,139.34 L307.20,142.56 L308.07,142.97 L308.93,146.57 L309.80,147.36 L310.58,149.34 L311.37,149.32 L312.15,150.49 L312.93,150.25 L313.72,153.03 L314.50,151.96 L315.42,154.60 L316.34,155.10 L317.26,157.43 L318.18,157.01 L319.10,160.42 L320.00,160.61 L320.90,164.11 L321.80,164.52 L322.70,167.36 L323.60,167.40 L324.45,169.53 L325.30,168.49 L326.15,169.82 L327.00,169.00 L327.85,169.96 L328.70,167.84 L329.55,168.08 L330.40,165.33 L331.33,165.44 L332.27,161.61 L333.20,161.56 L333.97,156.53 L334.73,154.51 L335.50,149.82 L336.35,146.06 L337.20,140.28 L338.05,139.77 L338.90,136.45 L339.75,134.60 L340.60,130.47 L341.30,130.31 L342.00,128.00 L342.75,129.26 L343.50,126.16 L344.25,128.45 L345.00,125.51 L345.83,127.17 L346.67,126.42 L347.50,127.94 L348.33,126.28 L349.17,129.67 L350.00,126.39 L350.75,129.23 L351.50,125.21 L352.25,127.10 L353.00,124.01 L354.05,126.93 L355.10,124.49 L356.05,127.38 L357.00,128.37 L358.00,132.70 L359.00,130.86 L360.00,134.07 L361.00,132.89 L362.00,136.94 L363.00,135.83 L363.75,136.83 L364.50,133.89 L365.25,136.10 L366.00,133.80 L367.00,137.49 L368.00,134.03 L369.00,136.48 L370.00,133.28 L370.83,135.85 L371.67,134.50 L372.50,137.88 L373.33,136.52 L374.17,139.07 L375.00,136.67 L376.00,143.77 L377.00,143.77 L378.00,147.81 L379.00,144.49 L380.00,147.79 L381.00,147.26 L382.00,146.62 L383.00,141.74 L383.75,140.26 L384.50,132.68 L385.50,130.95 L386.30,117.19 L387.50,126.76 L388.25,121.37 L389.00,125.26 L390.00,123.32 L391.00,128.27 L392.00,125.97 L393.00,130.22 L394.00,127.71 L395.00,131.63 L396.00,127.97 L397.00,130.14 L398.00,129.18 L399.00,134.01 L400.00,127.28 L401.00,130.17 L402.00,126.87 L403.00,132.38 L403.75,127.58 L404.50,133.38 L405.25,128.85 L406.00,131.61 L407.00,131.42 L408.00,136.49 L409.00,133.59 L410.00,137.81 L410.83,132.58 L411.67,139.09 L412.50,136.99 L413.33,142.02 L414.17,136.61 L415.00,143.56 L415.83,140.02 L416.67,144.58 L417.50,142.51 L418.33,146.07 L419.17,143.53 L420.00,148.75 L420.83,146.72 L421.67,149.26 L422.50,146.80 L423.33,151.34 L424.17,148.80 L425.00,152.93 L425.83,148.82 L426.67,155.42 L427.50,152.15 L428.33,154.09 L429.17,151.98 L430.00,157.21 L430.83,151.14 L431.67,155.53 L432.50,153.11 L433.33,156.81 L434.17,151.50 L435.00,157.85 L435.83,152.94 L436.67,157.33 L437.50,151.54 L438.33,155.77 L439.17,150.28 L440.00,154.65 L440.83,150.72 L441.67,153.90 L442.50,152.09 L443.33,156.08 L444.17,151.66 L445.00,155.33 L445.83,150.17 L446.67,155.21 L447.50,150.50 L448.33,153.34 L449.17,150.36 L450.00,154.55 L450.83,148.99 L451.67,154.31 L452.50,147.64 L453.33,151.36 L454.17,148.15 L455.00,150.76 L455.83,149.10 L456.67,150.00 L457.50,145.95 L458.33,151.48 L459.17,145.40 L460.00,149.47 L460.83,145.37 L461.67,150.13 L462.50,145.42 L463.33,148.83 L464.17,145.21 L465.00,146.70 L465.83,144.42 L466.67,148.46 L467.50,142.86 L468.33,147.89 L469.17,142.51 L470.00,145.28 L470.88,140.81 L471.75,146.18 L472.62,142.39 L473.50,144.96" fill="none" stroke="#d4578c" stroke-width="1.70" stroke-linejoin="round"/>
<circle cx="62.30" cy="107.80" r="2.20" fill="#5c5c5c"/><rect x="79.30" y="124.00" width="4.00" height="4.00" fill="#5c5c5c"/><rect x="85.30" y="103.60" width="4.00" height="4.00" fill="#5c5c5c"/><rect x="89.00" y="131.00" width="4.00" height="4.00" fill="#5c5c5c"/><rect x="93.90" y="142.60" width="4.00" height="4.00" fill="#5c5c5c"/><rect x="97.80" y="114.00" width="4.00" height="4.00" fill="#5c5c5c"/><rect x="99.40" y="117.60" width="4.00" height="4.00" fill="#5c5c5c"/><rect x="100.90" y="148.70" width="4.00" height="4.00" fill="#5c5c5c"/><rect x="103.40" y="125.70" width="4.00" height="4.00" fill="#5c5c5c"/><rect x="105.90" y="156.40" width="4.00" height="4.00" fill="#5c5c5c"/><rect x="109.20" y="140.20" width="4.00" height="4.00" fill="#5c5c5c"/><rect x="111.80" y="144.90" width="4.00" height="4.00" fill="#5c5c5c"/><rect x="112.60" y="182.50" width="4.00" height="4.00" fill="#5c5c5c"/><rect x="113.40" y="136.20" width="4.00" height="4.00" fill="#5c5c5c"/><rect x="115.60" y="135.20" width="4.00" height="4.00" fill="#5c5c5c"/><rect x="117.80" y="159.00" width="4.00" height="4.00" fill="#5c5c5c"/><rect x="120.20" y="121.00" width="4.00" height="4.00" fill="#5c5c5c"/><rect x="124.40" y="138.00" width="4.00" height="4.00" fill="#5c5c5c"/><rect x="131.30" y="173.90" width="4.00" height="4.00" fill="#5c5c5c"/><rect x="137.30" y="147.10" width="4.00" height="4.00" fill="#5c5c5c"/><rect x="144.60" y="149.00" width="4.00" height="4.00" fill="#5c5c5c"/><rect x="148.80" y="152.00" width="4.00" height="4.00" fill="#5c5c5c"/><rect x="152.80" y="125.40" width="4.00" height="4.00" fill="#5c5c5c"/><rect x="155.90" y="148.70" width="4.00" height="4.00" fill="#5c5c5c"/><rect x="158.90" y="161.50" width="4.00" height="4.00" fill="#5c5c5c"/><rect x="159.80" y="166.50" width="4.00" height="4.00" fill="#5c5c5c"/><rect x="160.90" y="162.80" width="4.00" height="4.00" fill="#5c5c5c"/><rect x="163.50" y="166.70" width="4.00" height="4.00" fill="#5c5c5c"/><rect x="164.80" y="170.70" width="4.00" height="4.00" fill="#5c5c5c"/><rect x="167.50" y="187.80" width="4.00" height="4.00" fill="#5c5c5c"/><rect x="169.50" y="172.70" width="4.00" height="4.00" fill="#5c5c5c"/><rect x="170.80" y="173.30" width="4.00" height="4.00" fill="#5c5c5c"/><rect x="172.80" y="158.70" width="4.00" height="4.00" fill="#5c5c5c"/><rect x="175.40" y="162.70" width="4.00" height="4.00" fill="#5c5c5c"/><rect x="176.10" y="169.20" width="4.00" height="4.00" fill="#5c5c5c"/><rect x="178.00" y="166.70" width="4.00" height="4.00" fill="#5c5c5c"/><rect x="180.00" y="168.60" width="4.00" height="4.00" fill="#5c5c5c"/><rect x="182.00" y="170.60" width="4.00" height="4.00" fill="#5c5c5c"/><rect x="183.20" y="181.00" width="4.00" height="4.00" fill="#5c5c5c"/><rect x="185.30" y="165.40" width="4.00" height="4.00" fill="#5c5c5c"/><rect x="187.30" y="152.80" width="4.00" height="4.00" fill="#5c5c5c"/><rect x="188.60" y="149.50" width="4.00" height="4.00" fill="#5c5c5c"/><rect x="190.00" y="147.60" width="4.00" height="4.00" fill="#5c5c5c"/><rect x="191.90" y="145.40" width="4.00" height="4.00" fill="#5c5c5c"/><rect x="193.50" y="153.70" width="4.00" height="4.00" fill="#5c5c5c"/><rect x="196.00" y="163.50" width="4.00" height="4.00" fill="#5c5c5c"/><rect x="198.50" y="163.50" width="4.00" height="4.00" fill="#5c5c5c"/><rect x="200.30" y="166.00" width="4.00" height="4.00" fill="#5c5c5c"/><rect x="202.30" y="176.60" width="4.00" height="4.00" fill="#5c5c5c"/><rect x="205.00" y="168.10" width="4.00" height="4.00" fill="#5c5c5c"/><rect x="207.40" y="158.20" width="4.00" height="4.00" fill="#5c5c5c"/><rect x="209.00" y="157.80" width="4.00" height="4.00" fill="#5c5c5c"/><rect x="210.30" y="143.60" width="4.00" height="4.00" fill="#5c5c5c"/><rect x="212.20" y="145.20" width="4.00" height="4.00" fill="#5c5c5c"/><rect x="213.50" y="141.80" width="4.00" height="4.00" fill="#5c5c5c"/><rect x="214.80" y="137.60" width="4.00" height="4.00" fill="#5c5c5c"/><rect x="216.20" y="143.00" width="4.00" height="4.00" fill="#5c5c5c"/><rect x="217.60" y="147.40" width="4.00" height="4.00" fill="#5c5c5c"/><rect x="219.60" y="132.40" width="4.00" height="4.00" fill="#5c5c5c"/><rect x="220.90" y="136.30" width="4.00" height="4.00" fill="#5c5c5c"/><rect x="222.20" y="142.20" width="4.00" height="4.00" fill="#5c5c5c"/><rect x="223.40" y="148.60" width="4.00" height="4.00" fill="#5c5c5c"/><rect x="224.60" y="154.40" width="4.00" height="4.00" fill="#5c5c5c"/><rect x="226.30" y="175.00" width="4.00" height="4.00" fill="#5c5c5c"/><rect x="227.30" y="168.00" width="4.00" height="4.00" fill="#5c5c5c"/><rect x="228.50" y="169.50" width="4.00" height="4.00" fill="#5c5c5c"/><rect x="229.50" y="168.60" width="4.00" height="4.00" fill="#5c5c5c"/><rect x="230.40" y="186.00" width="4.00" height="4.00" fill="#5c5c5c"/><circle cx="317.60" cy="145.40" r="2.20" fill="#5c5c5c"/><circle cx="342.80" cy="117.60" r="2.20" fill="#5c5c5c"/>
<circle cx="356.60" cy="142.20" r="2.00"/><circle cx="362.40" cy="141.70" r="2.00"/><circle cx="367.20" cy="142.20" r="2.00"/><circle cx="371.80" cy="139.40" r="2.00"/><circle cx="376.30" cy="151.50" r="2.00"/><circle cx="380.50" cy="151.20" r="2.00"/><circle cx="384.80" cy="133.70" r="2.00"/><circle cx="388.80" cy="130.40" r="2.00"/><circle cx="392.60" cy="125.10" r="2.00"/><circle cx="396.40" cy="136.40" r="2.00"/><circle cx="400.40" cy="137.90" r="2.00"/><circle cx="403.80" cy="134.60" r="2.00"/><circle cx="407.10" cy="125.10" r="2.00"/><circle cx="410.30" cy="109.20" r="2.00"/><circle cx="413.60" cy="117.20" r="2.00"/><circle cx="416.60" cy="125.50" r="2.00"/><circle cx="419.70" cy="148.50" r="2.00"/><circle cx="422.70" cy="120.80" r="2.00"/><circle cx="425.40" cy="146.20" r="2.00"/><circle cx="428.10" cy="130.40" r="2.00"/><circle cx="431.00" cy="153.10" r="2.00"/><circle cx="433.40" cy="178.90" r="2.00"/><circle cx="436.40" cy="140.20" r="2.00"/><circle cx="439.00" cy="137.90" r="2.00"/><circle cx="440.90" cy="197.70" r="2.00"/><circle cx="443.90" cy="172.80" r="2.00"/><circle cx="445.90" cy="197.70" r="2.00"/><circle cx="448.40" cy="138.70" r="2.00"/>
</g>
<g clip-path="url(#cbl)">
<path d="M62.30,342.38V373.42M45.30,357.90H77.40M81.30,362.01V390.35M78.00,376.13H84.90M87.30,340.07V371.42M91.00,369.32V397.66M95.90,385.64V404.67M93.40,394.75H98.40M99.80,347.18V385.14M101.40,342.38V397.16M102.90,385.84V415.79M105.40,360.50V395.36M107.90,395.66V421.69M111.20,378.23V406.17M113.80,380.33V413.68M114.60,399.76V469.66M110.90,434.71H118.50M115.40,370.32V406.37M117.60,362.21V412.48M119.80,377.33V445.73M122.20,262.76V484.19M126.40,367.11V413.38M124.00,390.15H128.80M133.30,403.97V450.24M130.30,426.10H136.30M139.30,375.63V422.80M146.60,379.33V423.50M150.80,328.46V479.68M154.80,334.17V420.89M151.50,377.53H158.30M157.90,392.45V409.48M160.90,408.67V418.69M161.80,382.44V455.04M162.90,409.98V419.99M165.50,413.88V423.90M166.80,417.89V427.90M169.50,401.96V478.08M166.00,440.02H173.00M171.50,419.89V429.91M172.80,420.49V430.51M174.80,406.87V414.88M177.40,409.88V419.89M178.10,374.22V468.56M180.00,413.88V423.90M182.00,415.79V425.80M184.00,417.79V427.80M185.20,428.10V438.62M187.30,413.08V422.09M189.30,400.46V409.48M190.60,397.16V406.17M192.00,394.75V404.77M193.90,392.35V403.17M195.50,400.86V410.88M198.00,410.18V421.19M200.50,410.68V420.69M202.30,413.18V423.20M204.30,425.20V435.01M207.00,416.99V424.30M209.40,404.77V414.98M211.00,404.97V414.98M212.30,389.65V401.76M214.20,392.65V402.17M215.50,389.15V398.76M216.80,384.94V394.55M218.20,390.65V399.66M219.60,394.75V404.37M221.60,379.63V390.45M222.90,383.44V393.45M224.20,389.35V399.36M225.40,395.76V405.77M226.60,401.56V411.58M228.30,419.69V434.71M229.30,415.68V424.70M230.50,416.69V426.70M231.50,415.79V425.80M232.40,430.71V445.53M317.60,389.35V401.76M305.40,395.56H328.50M342.80,359.70V375.63M328.70,367.71H355.70" stroke="#5c5c5c" stroke-width="1.50" fill="none"/>
<path d="M356.60,391.55V399.96M354.05,395.76H359.15M362.40,390.75V399.76M359.98,395.25H364.82M367.20,391.25V400.26M364.89,395.76H369.51M371.80,387.64V398.26M369.58,392.95H374.02M376.30,399.76V410.38M374.17,405.07H378.43M380.50,399.96V409.58M378.45,404.77H382.55M384.80,383.04V391.45M382.83,387.24H386.77M388.80,374.12V393.75M386.90,383.94H390.70M392.60,371.82V385.44M390.77,378.63H394.43M396.40,384.24V395.66M394.63,389.95H398.17M400.40,384.64V398.26M398.70,391.45H402.10M403.80,378.63V397.66M402.15,388.14H405.45M407.10,369.62V387.64M405.50,378.63H408.70M410.30,352.09V373.32M408.74,362.71H411.86M413.60,360.50V380.93M412.09,370.72H415.11M416.60,368.02V390.05M415.13,379.03H418.07M419.70,390.35V413.78M418.27,402.06H421.13M422.70,361.41V387.24M421.31,374.32H424.09M425.40,386.84V412.68M424.05,399.76H426.75M428.10,368.82V399.06M426.78,383.94H429.42M431.00,388.14V425.20M429.71,406.67H432.29M433.40,412.48V452.54M432.14,432.51H434.66M436.40,370.22V417.29M435.18,393.75H437.62M439.00,361.41V421.49M437.81,391.45H440.19M440.90,414.58V488.09M439.73,451.34H442.07M443.90,387.54V465.26M442.76,426.40H445.04M445.90,405.27V497.40M444.78,451.34H447.02M448.40,335.77V448.73M447.30,392.25H449.50" stroke="#000" stroke-width="1.50" fill="none"/>
<path d="M48.30,375.80 L49.18,375.91 L50.07,376.02 L50.95,376.13 L51.83,376.23 L52.72,376.34 L53.60,376.45 L54.48,376.56 L55.37,376.67 L56.25,376.77 L57.13,376.88 L58.02,376.99 L58.90,377.10 L59.78,377.22 L60.67,377.33 L61.55,377.45 L62.43,377.57 L63.32,377.68 L64.20,377.80 L65.08,377.92 L65.97,378.03 L66.85,378.15 L67.73,378.27 L68.62,378.38 L69.50,378.50 L70.38,378.72 L71.27,378.93 L72.15,379.15 L73.03,379.37 L73.92,379.58 L74.80,379.80 L75.68,380.02 L76.57,380.23 L77.45,380.45 L78.33,380.67 L79.22,380.88 L80.10,381.10 L80.92,381.26 L81.75,381.43 L82.58,381.59 L83.40,381.75 L84.22,381.91 L85.05,382.08 L85.88,382.24 L86.70,382.40 L87.53,382.69 L88.35,382.98 L89.17,383.26 L90.00,383.55 L90.83,383.84 L91.65,384.12 L92.47,384.41 L93.30,384.70 L94.12,385.00 L94.95,385.30 L95.78,385.60 L96.60,385.90 L97.42,386.20 L98.25,386.50 L99.08,386.80 L99.90,387.10 L100.73,387.43 L101.55,387.75 L102.38,388.08 L103.20,388.40 L104.03,388.72 L104.85,389.05 L105.67,389.37 L106.50,389.70 L107.38,390.15 L108.27,390.60 L109.15,391.05 L110.03,391.50 L110.92,391.95 L111.80,392.40 L112.68,392.72 L113.57,393.03 L114.45,393.35 L115.33,393.67 L116.22,393.98 L117.10,394.30 L118.00,394.53 L118.90,394.77 L119.80,395.00 L121.00,392.00 L121.70,386.40 L122.40,393.70 L123.30,395.00 L124.20,396.30 L125.10,397.60 L125.88,398.14 L126.66,398.68 L127.44,399.22 L128.22,399.76 L129.00,400.30 L129.80,400.70 L130.60,401.10 L131.40,401.50 L132.20,401.90 L133.00,402.30 L133.87,402.90 L134.73,403.50 L135.60,404.10 L136.48,404.48 L137.37,404.87 L138.25,405.25 L139.13,405.63 L140.02,406.02 L140.90,406.40 L141.78,406.73 L142.67,407.07 L143.55,407.40 L144.43,407.73 L145.32,408.07 L146.20,408.40 L147.02,408.72 L147.85,409.05 L148.68,409.38 L149.50,409.70 L150.30,403.00 L150.80,395.80 L151.50,409.70 L152.37,410.37 L153.23,411.03 L154.10,411.70 L154.90,411.84 L155.70,411.98 L156.50,412.12 L157.30,412.26 L158.10,412.40 L158.97,412.60 L159.83,412.80 L160.70,413.00 L161.60,413.90 L162.50,414.80 L163.40,415.70 L164.20,415.70 L165.00,415.70 L165.80,415.70 L166.60,415.70 L167.40,415.70 L168.27,415.23 L169.13,414.77 L170.00,414.30 L170.65,410.70 L171.30,407.10 L172.40,415.70 L173.13,414.60 L173.87,413.50 L174.60,412.40 L175.50,413.03 L176.40,413.67 L177.30,414.30 L178.12,414.97 L178.95,415.65 L179.78,416.32 L180.60,417.00 L181.40,417.52 L182.20,418.04 L183.00,418.56 L183.80,419.08 L184.60,419.60 L185.43,419.60 L186.25,419.60 L187.07,419.60 L187.90,419.60 L188.85,417.30 L189.80,415.00 L190.80,413.00 L191.80,411.00 L192.80,410.35 L193.80,409.70 L194.70,410.13 L195.60,410.57 L196.50,411.00 L197.37,412.33 L198.23,413.67 L199.10,415.00 L200.00,416.33 L200.90,417.67 L201.80,419.00 L202.67,419.67 L203.53,420.33 L204.40,421.00 L205.30,420.77 L206.20,420.53 L207.10,420.30 L208.05,418.30 L209.00,416.30 L209.70,412.35 L210.40,408.40 L211.05,403.75 L211.70,399.10 L212.65,396.40 L213.60,393.70 L214.60,393.05 L215.60,392.40 L216.60,391.05 L217.60,389.70 L218.25,390.35 L218.90,391.00 L219.55,392.35 L220.20,393.70 L221.20,395.00 L222.20,396.30 L223.20,398.30 L224.20,400.30 L225.20,402.95 L226.20,405.60 L227.20,408.25 L228.20,410.90 L229.07,412.20 L229.93,413.50 L230.80,414.80 L231.70,416.13 L232.60,417.47 L233.50,418.80 L234.45,419.40 L235.40,420.00 L236.30,418.27 L237.20,416.53 L238.10,414.80 L238.97,412.60 L239.83,410.40 L240.70,408.20 L241.70,405.55 L242.70,402.90 L243.35,399.95 L244.00,397.00 L244.70,399.30 L245.40,401.60 L246.05,397.30 L246.70,393.00 L247.70,395.30 L248.70,397.60 L249.70,398.30 L250.70,399.00 L251.60,393.70 L252.60,397.60 L253.60,396.95 L254.60,396.30 L255.60,396.95 L256.60,397.60 L257.25,400.25 L257.90,402.90 L258.90,405.90 L259.90,408.90 L260.90,411.85 L261.90,414.80 L262.90,416.80 L263.90,418.80 L264.72,418.98 L265.55,419.15 L266.38,419.32 L267.20,419.50 L268.20,418.50 L269.20,417.50 L270.20,414.85 L271.20,412.20 L272.20,409.55 L273.20,406.90 L273.85,404.25 L274.50,401.60 L275.15,399.60 L275.80,397.60 L276.45,396.91 L277.10,394.80 L277.80,392.87 L278.50,388.04 L279.15,387.63 L279.80,385.16 L280.80,386.12 L281.80,384.26 L282.45,384.32 L283.10,382.94 L284.10,388.59 L285.10,382.58 L285.75,379.27 L286.40,373.66 L287.05,372.04 L287.70,368.42 L288.35,370.84 L289.00,370.81 L289.70,374.10 L290.40,374.34 L291.05,374.01 L291.70,372.58 L292.55,375.43 L293.40,375.22 L294.25,377.30 L295.10,377.74 L295.95,379.69 L296.80,380.47 L297.65,382.60 L298.50,382.77 L299.35,384.97 L300.20,385.56 L301.05,387.93 L301.90,388.75 L302.75,391.40 L303.60,392.55 L304.45,395.29 L305.30,395.46 L306.15,398.51 L307.00,399.20 L307.85,401.60 L308.70,400.74 L309.55,402.97 L310.40,403.37 L311.25,405.43 L312.10,404.72 L312.95,407.33 L313.80,406.69 L314.65,408.08 L315.50,406.46 L316.35,407.61 L317.20,406.54 L318.05,408.78 L318.90,407.60 L319.75,409.74 L320.60,409.13 L321.45,410.82 L322.30,411.15 L323.15,413.20 L324.00,412.69 L324.85,414.54 L325.70,414.67 L326.55,417.12 L327.40,416.66 L328.27,417.61 L329.13,416.34 L330.00,417.19 L330.83,414.63 L331.67,414.94 L332.50,412.71 L333.20,410.33 L333.90,406.14 L335.10,387.60 L336.30,367.20 L336.95,361.70 L337.60,356.20 L338.45,354.90 L339.30,353.60 L340.15,354.05 L341.00,354.50 L341.85,356.60 L342.70,358.70 L343.55,362.10 L344.40,365.50 L345.25,369.75 L346.10,374.45 L346.95,375.44 L347.80,383.41 L348.65,381.24 L349.50,386.35 L350.35,383.51 L351.20,384.90 L352.05,382.05 L352.90,388.02 L353.75,386.46 L354.60,392.52 L355.47,389.02 L356.33,391.13 L357.20,386.76 L358.07,391.54 L358.93,389.03 L359.80,391.96 L360.63,388.83 L361.47,392.41 L362.30,388.94 L363.17,391.75 L364.03,387.67 L364.90,392.58 L365.73,387.85 L366.57,391.81 L367.40,387.76 L368.27,390.67 L369.13,387.44 L370.00,388.97 L370.83,386.99 L371.67,391.82 L372.50,390.20 L373.37,393.31 L374.23,391.14 L375.10,394.57 L375.90,393.31 L376.70,397.08 L377.55,395.42 L378.40,400.65 L379.25,396.65 L380.10,397.72 L380.95,392.25 L381.80,390.45 L382.65,383.57 L383.50,384.83 L384.35,377.00 L385.20,380.35 L386.05,376.50 L386.90,382.18 L387.75,380.67 L388.60,388.49 L389.45,386.27 L390.30,388.28 L391.15,386.47 L392.00,388.73 L392.85,385.79 L393.70,388.55 L394.55,386.00 L395.40,390.13 L396.27,388.06 L397.13,389.60 L398.00,386.74 L398.83,388.76 L399.67,385.74 L400.50,388.60 L401.37,383.78 L402.23,386.34 L403.10,382.59 L403.93,384.64 L404.77,382.31 L405.60,385.26 L406.47,381.75 L407.33,382.62 L408.20,377.96 L409.03,381.21 L409.87,376.56 L410.70,378.09 L411.55,371.85 L412.40,373.90 L413.25,371.61 L414.10,371.66 L414.95,369.13 L415.80,373.40 L416.65,374.27 L417.50,383.40 L418.35,382.39 L419.20,388.87 L420.07,386.80 L420.93,395.08 L421.80,392.67 L422.63,397.12 L423.47,395.15 L424.30,400.48 L425.15,397.85 L426.00,402.37 L426.85,399.79 L427.70,403.71 L428.55,402.45 L429.40,407.64 L430.25,402.08 L431.10,407.02 L431.95,402.55 L432.80,406.59 L433.65,401.87 L434.50,407.39 L435.35,402.96 L436.20,405.57 L437.05,403.74 L437.90,406.98 L438.75,403.03 L439.60,405.96 L440.45,399.50 L441.30,404.39 L442.15,400.94 L443.00,404.40 L443.85,397.77 L444.70,403.08 L445.55,398.04 L446.40,400.83 L447.25,397.21 L448.10,399.03 L448.97,394.48 L449.83,397.42 L450.70,393.60 L451.55,392.79 L452.40,387.13 L453.23,389.09 L454.07,384.22 L454.90,385.78 L455.75,380.59 L456.60,385.74 L457.45,381.36 L458.30,382.02 L459.15,378.99 L460.00,383.05 L460.85,376.42 L461.70,379.92 L462.55,376.80 L463.40,379.59 L464.25,373.69 L465.10,379.04 L465.95,373.84 L466.80,377.64 L467.65,371.60 L468.50,375.24 L469.37,369.24 L470.23,372.78 L471.10,368.26 L471.95,367.68 L472.80,362.27 L473.30,360.28 L474.00,350.95" fill="none" stroke="#f5b400" stroke-width="1.70" stroke-linejoin="round"/>
<circle cx="62.30" cy="357.90" r="2.20" fill="#5c5c5c"/><rect x="79.30" y="374.13" width="4.00" height="4.00" fill="#5c5c5c"/><rect x="85.30" y="353.70" width="4.00" height="4.00" fill="#5c5c5c"/><rect x="89.00" y="381.14" width="4.00" height="4.00" fill="#5c5c5c"/><rect x="93.90" y="392.75" width="4.00" height="4.00" fill="#5c5c5c"/><rect x="97.80" y="364.11" width="4.00" height="4.00" fill="#5c5c5c"/><rect x="99.40" y="367.72" width="4.00" height="4.00" fill="#5c5c5c"/><rect x="100.90" y="398.86" width="4.00" height="4.00" fill="#5c5c5c"/><rect x="103.40" y="375.83" width="4.00" height="4.00" fill="#5c5c5c"/><rect x="105.90" y="406.57" width="4.00" height="4.00" fill="#5c5c5c"/><rect x="109.20" y="390.35" width="4.00" height="4.00" fill="#5c5c5c"/><rect x="111.80" y="395.06" width="4.00" height="4.00" fill="#5c5c5c"/><rect x="112.60" y="432.71" width="4.00" height="4.00" fill="#5c5c5c"/><rect x="113.40" y="386.34" width="4.00" height="4.00" fill="#5c5c5c"/><rect x="115.60" y="385.34" width="4.00" height="4.00" fill="#5c5c5c"/><rect x="117.80" y="409.18" width="4.00" height="4.00" fill="#5c5c5c"/><rect x="120.20" y="371.12" width="4.00" height="4.00" fill="#5c5c5c"/><rect x="124.40" y="388.15" width="4.00" height="4.00" fill="#5c5c5c"/><rect x="131.30" y="424.10" width="4.00" height="4.00" fill="#5c5c5c"/><rect x="137.30" y="397.26" width="4.00" height="4.00" fill="#5c5c5c"/><rect x="144.60" y="399.16" width="4.00" height="4.00" fill="#5c5c5c"/><rect x="148.80" y="402.17" width="4.00" height="4.00" fill="#5c5c5c"/><rect x="152.80" y="375.53" width="4.00" height="4.00" fill="#5c5c5c"/><rect x="155.90" y="398.86" width="4.00" height="4.00" fill="#5c5c5c"/><rect x="158.90" y="411.68" width="4.00" height="4.00" fill="#5c5c5c"/><rect x="159.80" y="416.69" width="4.00" height="4.00" fill="#5c5c5c"/><rect x="160.90" y="412.98" width="4.00" height="4.00" fill="#5c5c5c"/><rect x="163.50" y="416.89" width="4.00" height="4.00" fill="#5c5c5c"/><rect x="164.80" y="420.90" width="4.00" height="4.00" fill="#5c5c5c"/><rect x="167.50" y="438.02" width="4.00" height="4.00" fill="#5c5c5c"/><rect x="169.50" y="422.90" width="4.00" height="4.00" fill="#5c5c5c"/><rect x="170.80" y="423.50" width="4.00" height="4.00" fill="#5c5c5c"/><rect x="172.80" y="408.88" width="4.00" height="4.00" fill="#5c5c5c"/><rect x="175.40" y="412.88" width="4.00" height="4.00" fill="#5c5c5c"/><rect x="176.10" y="419.39" width="4.00" height="4.00" fill="#5c5c5c"/><rect x="178.00" y="416.89" width="4.00" height="4.00" fill="#5c5c5c"/><rect x="180.00" y="418.79" width="4.00" height="4.00" fill="#5c5c5c"/><rect x="182.00" y="420.80" width="4.00" height="4.00" fill="#5c5c5c"/><rect x="183.20" y="431.21" width="4.00" height="4.00" fill="#5c5c5c"/><rect x="185.30" y="415.59" width="4.00" height="4.00" fill="#5c5c5c"/><rect x="187.30" y="402.97" width="4.00" height="4.00" fill="#5c5c5c"/><rect x="188.60" y="399.66" width="4.00" height="4.00" fill="#5c5c5c"/><rect x="190.00" y="397.76" width="4.00" height="4.00" fill="#5c5c5c"/><rect x="191.90" y="395.56" width="4.00" height="4.00" fill="#5c5c5c"/><rect x="193.50" y="403.87" width="4.00" height="4.00" fill="#5c5c5c"/><rect x="196.00" y="413.68" width="4.00" height="4.00" fill="#5c5c5c"/><rect x="198.50" y="413.68" width="4.00" height="4.00" fill="#5c5c5c"/><rect x="200.30" y="416.19" width="4.00" height="4.00" fill="#5c5c5c"/><rect x="202.30" y="426.80" width="4.00" height="4.00" fill="#5c5c5c"/><rect x="205.00" y="418.29" width="4.00" height="4.00" fill="#5c5c5c"/><rect x="207.40" y="408.38" width="4.00" height="4.00" fill="#5c5c5c"/><rect x="209.00" y="407.98" width="4.00" height="4.00" fill="#5c5c5c"/><rect x="210.30" y="393.76" width="4.00" height="4.00" fill="#5c5c5c"/><rect x="212.20" y="395.36" width="4.00" height="4.00" fill="#5c5c5c"/><rect x="213.50" y="391.95" width="4.00" height="4.00" fill="#5c5c5c"/><rect x="214.80" y="387.75" width="4.00" height="4.00" fill="#5c5c5c"/><rect x="216.20" y="393.15" width="4.00" height="4.00" fill="#5c5c5c"/><rect x="217.60" y="397.56" width="4.00" height="4.00" fill="#5c5c5c"/><rect x="219.60" y="382.54" width="4.00" height="4.00" fill="#5c5c5c"/><rect x="220.90" y="386.44" width="4.00" height="4.00" fill="#5c5c5c"/><rect x="222.20" y="392.35" width="4.00" height="4.00" fill="#5c5c5c"/><rect x="223.40" y="398.76" width="4.00" height="4.00" fill="#5c5c5c"/><rect x="224.60" y="404.57" width="4.00" height="4.00" fill="#5c5c5c"/><rect x="226.30" y="425.20" width="4.00" height="4.00" fill="#5c5c5c"/><rect x="227.30" y="418.19" width="4.00" height="4.00" fill="#5c5c5c"/><rect x="228.50" y="419.69" width="4.00" height="4.00" fill="#5c5c5c"/><rect x="229.50" y="418.79" width="4.00" height="4.00" fill="#5c5c5c"/><rect x="230.40" y="436.22" width="4.00" height="4.00" fill="#5c5c5c"/><circle cx="317.60" cy="395.56" r="2.20" fill="#5c5c5c"/><circle cx="342.80" cy="367.71" r="2.20" fill="#5c5c5c"/>
<circle cx="356.60" cy="395.76" r="2.00"/><circle cx="362.40" cy="395.25" r="2.00"/><circle cx="367.20" cy="395.76" r="2.00"/><circle cx="371.80" cy="392.95" r="2.00"/><circle cx="376.30" cy="405.07" r="2.00"/><circle cx="380.50" cy="404.77" r="2.00"/><circle cx="384.80" cy="387.24" r="2.00"/><circle cx="388.80" cy="383.94" r="2.00"/><circle cx="392.60" cy="378.63" r="2.00"/><circle cx="396.40" cy="389.95" r="2.00"/><circle cx="400.40" cy="391.45" r="2.00"/><circle cx="403.80" cy="388.14" r="2.00"/><circle cx="407.10" cy="378.63" r="2.00"/><circle cx="410.30" cy="362.71" r="2.00"/><circle cx="413.60" cy="370.72" r="2.00"/><circle cx="416.60" cy="379.03" r="2.00"/><circle cx="419.70" cy="402.06" r="2.00"/><circle cx="422.70" cy="374.32" r="2.00"/><circle cx="425.40" cy="399.76" r="2.00"/><circle cx="428.10" cy="383.94" r="2.00"/><circle cx="431.00" cy="406.67" r="2.00"/><circle cx="433.40" cy="432.51" r="2.00"/><circle cx="436.40" cy="393.75" r="2.00"/><circle cx="439.00" cy="391.45" r="2.00"/><circle cx="440.90" cy="451.34" r="2.00"/><circle cx="443.90" cy="426.40" r="2.00"/><circle cx="445.90" cy="451.34" r="2.00"/><circle cx="448.40" cy="392.25" r="2.00"/>
</g>
<line x1="40.17" y1="238.36" x2="43.50" y2="238.36" stroke="#000" stroke-width="0.76"/>
<text x="15.93" y="241.81" font-size="9.79" textLength="20.52" lengthAdjust="spacingAndGlyphs">1.35</text>
<line x1="41.60" y1="232.81" x2="43.50" y2="232.81" stroke="#000" stroke-width="0.57"/>
<line x1="41.60" y1="227.27" x2="43.50" y2="227.27" stroke="#000" stroke-width="0.57"/>
<line x1="41.60" y1="221.72" x2="43.50" y2="221.72" stroke="#000" stroke-width="0.57"/>
<line x1="41.60" y1="216.18" x2="43.50" y2="216.18" stroke="#000" stroke-width="0.57"/>
<line x1="40.17" y1="210.63" x2="43.50" y2="210.63" stroke="#000" stroke-width="0.76"/>
<text x="15.93" y="214.08" font-size="9.79" textLength="20.71" lengthAdjust="spacingAndGlyphs">1.40</text>
<line x1="41.60" y1="205.09" x2="43.50" y2="205.09" stroke="#000" stroke-width="0.57"/>
<line x1="41.60" y1="199.55" x2="43.50" y2="199.55" stroke="#000" stroke-width="0.57"/>
<line x1="41.60" y1="194.00" x2="43.50" y2="194.00" stroke="#000" stroke-width="0.57"/>
<line x1="41.60" y1="188.46" x2="43.50" y2="188.46" stroke="#000" stroke-width="0.57"/>
<line x1="40.17" y1="182.91" x2="43.50" y2="182.91" stroke="#000" stroke-width="0.76"/>
<text x="15.93" y="186.36" font-size="9.79" textLength="20.52" lengthAdjust="spacingAndGlyphs">1.45</text>
<line x1="41.60" y1="177.37" x2="43.50" y2="177.37" stroke="#000" stroke-width="0.57"/>
<line x1="41.60" y1="171.83" x2="43.50" y2="171.83" stroke="#000" stroke-width="0.57"/>
<line x1="41.60" y1="166.28" x2="43.50" y2="166.28" stroke="#000" stroke-width="0.57"/>
<line x1="41.60" y1="160.74" x2="43.50" y2="160.74" stroke="#000" stroke-width="0.57"/>
<line x1="40.17" y1="155.19" x2="43.50" y2="155.19" stroke="#000" stroke-width="0.76"/>
<text x="15.93" y="158.64" font-size="9.79" textLength="20.71" lengthAdjust="spacingAndGlyphs">1.50</text>
<line x1="41.60" y1="149.65" x2="43.50" y2="149.65" stroke="#000" stroke-width="0.57"/>
<line x1="41.60" y1="144.10" x2="43.50" y2="144.10" stroke="#000" stroke-width="0.57"/>
<line x1="41.60" y1="138.56" x2="43.50" y2="138.56" stroke="#000" stroke-width="0.57"/>
<line x1="41.60" y1="133.02" x2="43.50" y2="133.02" stroke="#000" stroke-width="0.57"/>
<line x1="40.17" y1="127.47" x2="43.50" y2="127.47" stroke="#000" stroke-width="0.76"/>
<text x="15.93" y="130.92" font-size="9.79" textLength="20.52" lengthAdjust="spacingAndGlyphs">1.55</text>
<line x1="41.60" y1="121.93" x2="43.50" y2="121.93" stroke="#000" stroke-width="0.57"/>
<line x1="41.60" y1="116.38" x2="43.50" y2="116.38" stroke="#000" stroke-width="0.57"/>
<line x1="41.60" y1="110.84" x2="43.50" y2="110.84" stroke="#000" stroke-width="0.57"/>
<line x1="41.60" y1="105.30" x2="43.50" y2="105.30" stroke="#000" stroke-width="0.57"/>
<line x1="40.17" y1="99.75" x2="43.50" y2="99.75" stroke="#000" stroke-width="0.76"/>
<text x="15.93" y="103.20" font-size="9.79" textLength="20.71" lengthAdjust="spacingAndGlyphs">1.60</text>
<line x1="41.60" y1="94.21" x2="43.50" y2="94.21" stroke="#000" stroke-width="0.57"/>
<line x1="41.60" y1="88.66" x2="43.50" y2="88.66" stroke="#000" stroke-width="0.57"/>
<line x1="41.60" y1="83.12" x2="43.50" y2="83.12" stroke="#000" stroke-width="0.57"/>
<line x1="41.60" y1="77.57" x2="43.50" y2="77.57" stroke="#000" stroke-width="0.57"/>
<line x1="40.17" y1="72.03" x2="43.50" y2="72.03" stroke="#000" stroke-width="0.76"/>
<text x="15.93" y="75.48" font-size="9.79" textLength="20.52" lengthAdjust="spacingAndGlyphs">1.65</text>
<line x1="41.60" y1="66.49" x2="43.50" y2="66.49" stroke="#000" stroke-width="0.57"/>
<line x1="41.60" y1="60.94" x2="43.50" y2="60.94" stroke="#000" stroke-width="0.57"/>
<line x1="41.60" y1="55.40" x2="43.50" y2="55.40" stroke="#000" stroke-width="0.57"/>
<line x1="41.60" y1="49.85" x2="43.50" y2="49.85" stroke="#000" stroke-width="0.57"/>
<line x1="40.17" y1="44.31" x2="43.50" y2="44.31" stroke="#000" stroke-width="0.76"/>
<text x="15.93" y="47.76" font-size="9.79" textLength="20.71" lengthAdjust="spacingAndGlyphs">1.70</text>
<line x1="41.60" y1="38.77" x2="43.50" y2="38.77" stroke="#000" stroke-width="0.57"/>
<line x1="41.60" y1="33.22" x2="43.50" y2="33.22" stroke="#000" stroke-width="0.57"/>
<line x1="41.60" y1="27.68" x2="43.50" y2="27.68" stroke="#000" stroke-width="0.57"/>
<line x1="41.60" y1="22.13" x2="43.50" y2="22.13" stroke="#000" stroke-width="0.57"/>
<line x1="40.17" y1="16.59" x2="43.50" y2="16.59" stroke="#000" stroke-width="0.76"/>
<text x="15.93" y="20.04" font-size="9.79" textLength="20.52" lengthAdjust="spacingAndGlyphs">1.75</text>
<line x1="41.60" y1="11.04" x2="43.50" y2="11.04" stroke="#000" stroke-width="0.57"/>
<line x1="48.50" y1="243.90" x2="48.50" y2="247.22" stroke="#000" stroke-width="0.76"/>
<line x1="79.78" y1="243.90" x2="79.78" y2="247.22" stroke="#000" stroke-width="0.76"/>
<line x1="123.88" y1="243.90" x2="123.88" y2="247.22" stroke="#000" stroke-width="0.76"/>
<line x1="179.43" y1="243.90" x2="179.43" y2="247.22" stroke="#000" stroke-width="0.76"/>
<line x1="223.52" y1="243.90" x2="223.52" y2="247.22" stroke="#000" stroke-width="0.76"/>
<line x1="254.81" y1="243.90" x2="254.81" y2="247.22" stroke="#000" stroke-width="0.76"/>
<line x1="298.90" y1="243.90" x2="298.90" y2="247.22" stroke="#000" stroke-width="0.76"/>
<line x1="330.18" y1="243.90" x2="330.18" y2="247.22" stroke="#000" stroke-width="0.76"/>
<line x1="374.28" y1="243.90" x2="374.28" y2="247.22" stroke="#000" stroke-width="0.76"/>
<line x1="405.56" y1="243.90" x2="405.56" y2="247.22" stroke="#000" stroke-width="0.76"/>
<line x1="449.66" y1="243.90" x2="449.66" y2="247.22" stroke="#000" stroke-width="0.76"/>
<line x1="104.05" y1="243.90" x2="104.05" y2="245.80" stroke="#000" stroke-width="0.57"/>
<line x1="140.64" y1="243.90" x2="140.64" y2="245.80" stroke="#000" stroke-width="0.57"/>
<line x1="155.16" y1="243.90" x2="155.16" y2="245.80" stroke="#000" stroke-width="0.57"/>
<line x1="167.97" y1="243.90" x2="167.97" y2="245.80" stroke="#000" stroke-width="0.57"/>
<line x1="354.45" y1="243.90" x2="354.45" y2="245.80" stroke="#000" stroke-width="0.57"/>
<line x1="391.04" y1="243.90" x2="391.04" y2="245.80" stroke="#000" stroke-width="0.57"/>
<line x1="418.37" y1="243.90" x2="418.37" y2="245.80" stroke="#000" stroke-width="0.57"/>
<line x1="40.17" y1="488.65" x2="43.50" y2="488.65" stroke="#000" stroke-width="0.76"/>
<text x="15.93" y="492.10" font-size="9.79" textLength="20.52" lengthAdjust="spacingAndGlyphs">1.35</text>
<line x1="41.60" y1="483.10" x2="43.50" y2="483.10" stroke="#000" stroke-width="0.57"/>
<line x1="41.60" y1="477.54" x2="43.50" y2="477.54" stroke="#000" stroke-width="0.57"/>
<line x1="41.60" y1="471.99" x2="43.50" y2="471.99" stroke="#000" stroke-width="0.57"/>
<line x1="41.60" y1="466.44" x2="43.50" y2="466.44" stroke="#000" stroke-width="0.57"/>
<line x1="40.17" y1="460.89" x2="43.50" y2="460.89" stroke="#000" stroke-width="0.76"/>
<text x="15.93" y="464.34" font-size="9.79" textLength="20.71" lengthAdjust="spacingAndGlyphs">1.40</text>
<line x1="41.60" y1="455.33" x2="43.50" y2="455.33" stroke="#000" stroke-width="0.57"/>
<line x1="41.60" y1="449.78" x2="43.50" y2="449.78" stroke="#000" stroke-width="0.57"/>
<line x1="41.60" y1="444.23" x2="43.50" y2="444.23" stroke="#000" stroke-width="0.57"/>
<line x1="41.60" y1="438.68" x2="43.50" y2="438.68" stroke="#000" stroke-width="0.57"/>
<line x1="40.17" y1="433.12" x2="43.50" y2="433.12" stroke="#000" stroke-width="0.76"/>
<text x="15.93" y="436.57" font-size="9.79" textLength="20.52" lengthAdjust="spacingAndGlyphs">1.45</text>
<line x1="41.60" y1="427.57" x2="43.50" y2="427.57" stroke="#000" stroke-width="0.57"/>
<line x1="41.60" y1="422.02" x2="43.50" y2="422.02" stroke="#000" stroke-width="0.57"/>
<line x1="41.60" y1="416.47" x2="43.50" y2="416.47" stroke="#000" stroke-width="0.57"/>
<line x1="41.60" y1="410.92" x2="43.50" y2="410.92" stroke="#000" stroke-width="0.57"/>
<line x1="40.17" y1="405.36" x2="43.50" y2="405.36" stroke="#000" stroke-width="0.76"/>
<text x="15.93" y="408.81" font-size="9.79" textLength="20.71" lengthAdjust="spacingAndGlyphs">1.50</text>
<line x1="41.60" y1="399.81" x2="43.50" y2="399.81" stroke="#000" stroke-width="0.57"/>
<line x1="41.60" y1="394.26" x2="43.50" y2="394.26" stroke="#000" stroke-width="0.57"/>
<line x1="41.60" y1="388.71" x2="43.50" y2="388.71" stroke="#000" stroke-width="0.57"/>
<line x1="41.60" y1="383.15" x2="43.50" y2="383.15" stroke="#000" stroke-width="0.57"/>
<line x1="40.17" y1="377.60" x2="43.50" y2="377.60" stroke="#000" stroke-width="0.76"/>
<text x="15.93" y="381.05" font-size="9.79" textLength="20.52" lengthAdjust="spacingAndGlyphs">1.55</text>
<line x1="41.60" y1="372.05" x2="43.50" y2="372.05" stroke="#000" stroke-width="0.57"/>
<line x1="41.60" y1="366.50" x2="43.50" y2="366.50" stroke="#000" stroke-width="0.57"/>
<line x1="41.60" y1="360.94" x2="43.50" y2="360.94" stroke="#000" stroke-width="0.57"/>
<line x1="41.60" y1="355.39" x2="43.50" y2="355.39" stroke="#000" stroke-width="0.57"/>
<line x1="40.17" y1="349.84" x2="43.50" y2="349.84" stroke="#000" stroke-width="0.76"/>
<text x="15.93" y="353.29" font-size="9.79" textLength="20.71" lengthAdjust="spacingAndGlyphs">1.60</text>
<line x1="41.60" y1="344.29" x2="43.50" y2="344.29" stroke="#000" stroke-width="0.57"/>
<line x1="41.60" y1="338.73" x2="43.50" y2="338.73" stroke="#000" stroke-width="0.57"/>
<line x1="41.60" y1="333.18" x2="43.50" y2="333.18" stroke="#000" stroke-width="0.57"/>
<line x1="41.60" y1="327.63" x2="43.50" y2="327.63" stroke="#000" stroke-width="0.57"/>
<line x1="40.17" y1="322.08" x2="43.50" y2="322.08" stroke="#000" stroke-width="0.76"/>
<text x="15.93" y="325.53" font-size="9.79" textLength="20.52" lengthAdjust="spacingAndGlyphs">1.65</text>
<line x1="41.60" y1="316.53" x2="43.50" y2="316.53" stroke="#000" stroke-width="0.57"/>
<line x1="41.60" y1="310.97" x2="43.50" y2="310.97" stroke="#000" stroke-width="0.57"/>
<line x1="41.60" y1="305.42" x2="43.50" y2="305.42" stroke="#000" stroke-width="0.57"/>
<line x1="41.60" y1="299.87" x2="43.50" y2="299.87" stroke="#000" stroke-width="0.57"/>
<line x1="40.17" y1="294.32" x2="43.50" y2="294.32" stroke="#000" stroke-width="0.76"/>
<text x="15.93" y="297.77" font-size="9.79" textLength="20.71" lengthAdjust="spacingAndGlyphs">1.70</text>
<line x1="41.60" y1="288.76" x2="43.50" y2="288.76" stroke="#000" stroke-width="0.57"/>
<line x1="41.60" y1="283.21" x2="43.50" y2="283.21" stroke="#000" stroke-width="0.57"/>
<line x1="41.60" y1="277.66" x2="43.50" y2="277.66" stroke="#000" stroke-width="0.57"/>
<line x1="41.60" y1="272.11" x2="43.50" y2="272.11" stroke="#000" stroke-width="0.57"/>
<line x1="40.17" y1="266.55" x2="43.50" y2="266.55" stroke="#000" stroke-width="0.76"/>
<text x="15.93" y="270.00" font-size="9.79" textLength="20.52" lengthAdjust="spacingAndGlyphs">1.75</text>
<line x1="41.60" y1="261.00" x2="43.50" y2="261.00" stroke="#000" stroke-width="0.57"/>
<line x1="48.50" y1="494.20" x2="48.50" y2="497.52" stroke="#000" stroke-width="0.76"/>
<text x="41.17" y="508.05" font-size="9.79" textLength="14.60" lengthAdjust="spacingAndGlyphs">0.3</text>
<line x1="79.78" y1="494.20" x2="79.78" y2="497.52" stroke="#000" stroke-width="0.76"/>
<text x="72.45" y="508.05" font-size="9.79" textLength="14.67" lengthAdjust="spacingAndGlyphs">0.4</text>
<line x1="123.88" y1="494.20" x2="123.88" y2="497.52" stroke="#000" stroke-width="0.76"/>
<text x="116.54" y="508.05" font-size="9.79" textLength="14.78" lengthAdjust="spacingAndGlyphs">0.6</text>
<line x1="179.43" y1="494.20" x2="179.43" y2="497.52" stroke="#000" stroke-width="0.76"/>
<text x="172.11" y="508.05" font-size="9.79" textLength="14.66" lengthAdjust="spacingAndGlyphs">1.0</text>
<line x1="223.52" y1="494.20" x2="223.52" y2="497.52" stroke="#000" stroke-width="0.76"/>
<text x="216.22" y="508.05" font-size="9.79" textLength="14.45" lengthAdjust="spacingAndGlyphs">1.5</text>
<line x1="254.81" y1="494.20" x2="254.81" y2="497.52" stroke="#000" stroke-width="0.76"/>
<text x="247.41" y="508.05" font-size="9.79" textLength="14.73" lengthAdjust="spacingAndGlyphs">2.0</text>
<line x1="298.90" y1="494.20" x2="298.90" y2="497.52" stroke="#000" stroke-width="0.76"/>
<text x="291.68" y="508.05" font-size="9.79" textLength="14.56" lengthAdjust="spacingAndGlyphs">3.0</text>
<line x1="330.18" y1="494.20" x2="330.18" y2="497.52" stroke="#000" stroke-width="0.76"/>
<text x="322.85" y="508.05" font-size="9.79" textLength="14.68" lengthAdjust="spacingAndGlyphs">4.0</text>
<line x1="374.28" y1="494.20" x2="374.28" y2="497.52" stroke="#000" stroke-width="0.76"/>
<text x="366.85" y="508.05" font-size="9.79" textLength="14.77" lengthAdjust="spacingAndGlyphs">6.0</text>
<line x1="405.56" y1="494.20" x2="405.56" y2="497.52" stroke="#000" stroke-width="0.76"/>
<text x="398.19" y="508.05" font-size="9.79" textLength="14.71" lengthAdjust="spacingAndGlyphs">8.0</text>
<line x1="449.66" y1="494.20" x2="449.66" y2="497.52" stroke="#000" stroke-width="0.76"/>
<text x="439.31" y="508.05" font-size="9.79" textLength="20.71" lengthAdjust="spacingAndGlyphs">12.0</text>
<line x1="104.05" y1="494.20" x2="104.05" y2="496.10" stroke="#000" stroke-width="0.57"/>
<line x1="140.64" y1="494.20" x2="140.64" y2="496.10" stroke="#000" stroke-width="0.57"/>
<line x1="155.16" y1="494.20" x2="155.16" y2="496.10" stroke="#000" stroke-width="0.57"/>
<line x1="167.97" y1="494.20" x2="167.97" y2="496.10" stroke="#000" stroke-width="0.57"/>
<line x1="354.45" y1="494.20" x2="354.45" y2="496.10" stroke="#000" stroke-width="0.57"/>
<line x1="391.04" y1="494.20" x2="391.04" y2="496.10" stroke="#000" stroke-width="0.57"/>
<line x1="418.37" y1="494.20" x2="418.37" y2="496.10" stroke="#000" stroke-width="0.57"/>
<line x1="528.17" y1="5.50" x2="531.50" y2="5.50" stroke="#000" stroke-width="0.76"/>
<text x="502.79" y="9.35" font-size="9.79" textLength="11.63" lengthAdjust="spacingAndGlyphs">10</text>
<text x="515.03" y="6.12" font-size="6.85" textLength="9.43" lengthAdjust="spacingAndGlyphs">−6</text>
<line x1="529.60" y1="14.47" x2="531.50" y2="14.47" stroke="#000" stroke-width="0.57"/>
<line x1="529.60" y1="19.72" x2="531.50" y2="19.72" stroke="#000" stroke-width="0.57"/>
<line x1="529.60" y1="23.44" x2="531.50" y2="23.44" stroke="#000" stroke-width="0.57"/>
<line x1="529.60" y1="26.33" x2="531.50" y2="26.33" stroke="#000" stroke-width="0.57"/>
<line x1="529.60" y1="28.69" x2="531.50" y2="28.69" stroke="#000" stroke-width="0.57"/>
<line x1="529.60" y1="30.68" x2="531.50" y2="30.68" stroke="#000" stroke-width="0.57"/>
<line x1="529.60" y1="32.41" x2="531.50" y2="32.41" stroke="#000" stroke-width="0.57"/>
<line x1="529.60" y1="33.94" x2="531.50" y2="33.94" stroke="#000" stroke-width="0.57"/>
<line x1="528.17" y1="35.30" x2="531.50" y2="35.30" stroke="#000" stroke-width="0.76"/>
<text x="502.79" y="39.15" font-size="9.79" textLength="11.63" lengthAdjust="spacingAndGlyphs">10</text>
<text x="515.03" y="35.92" font-size="6.85" textLength="9.26" lengthAdjust="spacingAndGlyphs">−5</text>
<line x1="529.60" y1="44.27" x2="531.50" y2="44.27" stroke="#000" stroke-width="0.57"/>
<line x1="529.60" y1="49.52" x2="531.50" y2="49.52" stroke="#000" stroke-width="0.57"/>
<line x1="529.60" y1="53.24" x2="531.50" y2="53.24" stroke="#000" stroke-width="0.57"/>
<line x1="529.60" y1="56.13" x2="531.50" y2="56.13" stroke="#000" stroke-width="0.57"/>
<line x1="529.60" y1="58.49" x2="531.50" y2="58.49" stroke="#000" stroke-width="0.57"/>
<line x1="529.60" y1="60.48" x2="531.50" y2="60.48" stroke="#000" stroke-width="0.57"/>
<line x1="529.60" y1="62.21" x2="531.50" y2="62.21" stroke="#000" stroke-width="0.57"/>
<line x1="529.60" y1="63.74" x2="531.50" y2="63.74" stroke="#000" stroke-width="0.57"/>
<line x1="528.17" y1="65.10" x2="531.50" y2="65.10" stroke="#000" stroke-width="0.76"/>
<text x="502.79" y="68.95" font-size="9.79" textLength="11.63" lengthAdjust="spacingAndGlyphs">10</text>
<text x="515.03" y="65.72" font-size="6.85" textLength="9.36" lengthAdjust="spacingAndGlyphs">−4</text>
<line x1="529.60" y1="74.07" x2="531.50" y2="74.07" stroke="#000" stroke-width="0.57"/>
<line x1="529.60" y1="79.32" x2="531.50" y2="79.32" stroke="#000" stroke-width="0.57"/>
<line x1="529.60" y1="83.04" x2="531.50" y2="83.04" stroke="#000" stroke-width="0.57"/>
<line x1="529.60" y1="85.93" x2="531.50" y2="85.93" stroke="#000" stroke-width="0.57"/>
<line x1="529.60" y1="88.29" x2="531.50" y2="88.29" stroke="#000" stroke-width="0.57"/>
<line x1="529.60" y1="90.28" x2="531.50" y2="90.28" stroke="#000" stroke-width="0.57"/>
<line x1="529.60" y1="92.01" x2="531.50" y2="92.01" stroke="#000" stroke-width="0.57"/>
<line x1="529.60" y1="93.54" x2="531.50" y2="93.54" stroke="#000" stroke-width="0.57"/>
<line x1="528.17" y1="94.90" x2="531.50" y2="94.90" stroke="#000" stroke-width="0.76"/>
<text x="502.79" y="98.75" font-size="9.79" textLength="11.63" lengthAdjust="spacingAndGlyphs">10</text>
<text x="515.03" y="95.52" font-size="6.85" textLength="9.33" lengthAdjust="spacingAndGlyphs">−3</text>
<line x1="529.60" y1="103.87" x2="531.50" y2="103.87" stroke="#000" stroke-width="0.57"/>
<line x1="529.60" y1="109.12" x2="531.50" y2="109.12" stroke="#000" stroke-width="0.57"/>
<line x1="529.60" y1="112.84" x2="531.50" y2="112.84" stroke="#000" stroke-width="0.57"/>
<line x1="529.60" y1="115.73" x2="531.50" y2="115.73" stroke="#000" stroke-width="0.57"/>
<line x1="529.60" y1="118.09" x2="531.50" y2="118.09" stroke="#000" stroke-width="0.57"/>
<line x1="529.60" y1="120.08" x2="531.50" y2="120.08" stroke="#000" stroke-width="0.57"/>
<line x1="529.60" y1="121.81" x2="531.50" y2="121.81" stroke="#000" stroke-width="0.57"/>
<line x1="529.60" y1="123.34" x2="531.50" y2="123.34" stroke="#000" stroke-width="0.57"/>
<line x1="528.17" y1="124.70" x2="531.50" y2="124.70" stroke="#000" stroke-width="0.76"/>
<text x="502.79" y="128.55" font-size="9.79" textLength="11.63" lengthAdjust="spacingAndGlyphs">10</text>
<text x="515.03" y="125.32" font-size="6.85" textLength="9.24" lengthAdjust="spacingAndGlyphs">−2</text>
<line x1="529.60" y1="133.67" x2="531.50" y2="133.67" stroke="#000" stroke-width="0.57"/>
<line x1="529.60" y1="138.92" x2="531.50" y2="138.92" stroke="#000" stroke-width="0.57"/>
<line x1="529.60" y1="142.64" x2="531.50" y2="142.64" stroke="#000" stroke-width="0.57"/>
<line x1="529.60" y1="145.53" x2="531.50" y2="145.53" stroke="#000" stroke-width="0.57"/>
<line x1="529.60" y1="147.89" x2="531.50" y2="147.89" stroke="#000" stroke-width="0.57"/>
<line x1="529.60" y1="149.88" x2="531.50" y2="149.88" stroke="#000" stroke-width="0.57"/>
<line x1="529.60" y1="151.61" x2="531.50" y2="151.61" stroke="#000" stroke-width="0.57"/>
<line x1="529.60" y1="153.14" x2="531.50" y2="153.14" stroke="#000" stroke-width="0.57"/>
<line x1="528.17" y1="154.50" x2="531.50" y2="154.50" stroke="#000" stroke-width="0.76"/>
<text x="502.79" y="158.35" font-size="9.79" textLength="11.63" lengthAdjust="spacingAndGlyphs">10</text>
<text x="515.03" y="155.12" font-size="6.85" textLength="9.29" lengthAdjust="spacingAndGlyphs">−1</text>
<line x1="529.60" y1="163.47" x2="531.50" y2="163.47" stroke="#000" stroke-width="0.57"/>
<line x1="529.60" y1="168.72" x2="531.50" y2="168.72" stroke="#000" stroke-width="0.57"/>
<line x1="529.60" y1="172.44" x2="531.50" y2="172.44" stroke="#000" stroke-width="0.57"/>
<line x1="529.60" y1="175.33" x2="531.50" y2="175.33" stroke="#000" stroke-width="0.57"/>
<line x1="529.60" y1="177.69" x2="531.50" y2="177.69" stroke="#000" stroke-width="0.57"/>
<line x1="529.60" y1="179.68" x2="531.50" y2="179.68" stroke="#000" stroke-width="0.57"/>
<line x1="529.60" y1="181.41" x2="531.50" y2="181.41" stroke="#000" stroke-width="0.57"/>
<line x1="529.60" y1="182.94" x2="531.50" y2="182.94" stroke="#000" stroke-width="0.57"/>
<line x1="528.17" y1="184.30" x2="531.50" y2="184.30" stroke="#000" stroke-width="0.76"/>
<text x="508.79" y="188.15" font-size="9.79" textLength="11.63" lengthAdjust="spacingAndGlyphs">10</text>
<text x="520.90" y="184.92" font-size="6.85" textLength="3.88" lengthAdjust="spacingAndGlyphs">0</text>
<line x1="529.60" y1="193.27" x2="531.50" y2="193.27" stroke="#000" stroke-width="0.57"/>
<line x1="529.60" y1="198.52" x2="531.50" y2="198.52" stroke="#000" stroke-width="0.57"/>
<line x1="529.60" y1="202.24" x2="531.50" y2="202.24" stroke="#000" stroke-width="0.57"/>
<line x1="529.60" y1="205.13" x2="531.50" y2="205.13" stroke="#000" stroke-width="0.57"/>
<line x1="529.60" y1="207.49" x2="531.50" y2="207.49" stroke="#000" stroke-width="0.57"/>
<line x1="529.60" y1="209.48" x2="531.50" y2="209.48" stroke="#000" stroke-width="0.57"/>
<line x1="529.60" y1="211.21" x2="531.50" y2="211.21" stroke="#000" stroke-width="0.57"/>
<line x1="529.60" y1="212.74" x2="531.50" y2="212.74" stroke="#000" stroke-width="0.57"/>
<line x1="528.17" y1="214.10" x2="531.50" y2="214.10" stroke="#000" stroke-width="0.76"/>
<text x="508.79" y="217.95" font-size="9.79" textLength="11.63" lengthAdjust="spacingAndGlyphs">10</text>
<text x="520.95" y="214.72" font-size="6.85" textLength="3.72" lengthAdjust="spacingAndGlyphs">1</text>
<line x1="529.60" y1="223.07" x2="531.50" y2="223.07" stroke="#000" stroke-width="0.57"/>
<line x1="529.60" y1="228.32" x2="531.50" y2="228.32" stroke="#000" stroke-width="0.57"/>
<line x1="529.60" y1="232.04" x2="531.50" y2="232.04" stroke="#000" stroke-width="0.57"/>
<line x1="529.60" y1="234.93" x2="531.50" y2="234.93" stroke="#000" stroke-width="0.57"/>
<line x1="529.60" y1="237.29" x2="531.50" y2="237.29" stroke="#000" stroke-width="0.57"/>
<line x1="529.60" y1="239.28" x2="531.50" y2="239.28" stroke="#000" stroke-width="0.57"/>
<line x1="529.60" y1="241.01" x2="531.50" y2="241.01" stroke="#000" stroke-width="0.57"/>
<line x1="529.60" y1="242.54" x2="531.50" y2="242.54" stroke="#000" stroke-width="0.57"/>
<line x1="528.17" y1="243.90" x2="531.50" y2="243.90" stroke="#000" stroke-width="0.76"/>
<text x="508.79" y="247.75" font-size="9.79" textLength="11.63" lengthAdjust="spacingAndGlyphs">10</text>
<text x="520.88" y="244.52" font-size="6.85" textLength="3.75" lengthAdjust="spacingAndGlyphs">2</text>
<line x1="545.78" y1="243.90" x2="545.78" y2="247.22" stroke="#000" stroke-width="0.76"/>
<line x1="581.50" y1="243.90" x2="581.50" y2="247.22" stroke="#000" stroke-width="0.76"/>
<line x1="617.21" y1="243.90" x2="617.21" y2="247.22" stroke="#000" stroke-width="0.76"/>
<line x1="652.92" y1="243.90" x2="652.92" y2="247.22" stroke="#000" stroke-width="0.76"/>
<line x1="688.63" y1="243.90" x2="688.63" y2="247.22" stroke="#000" stroke-width="0.76"/>
<line x1="528.17" y1="255.45" x2="531.50" y2="255.45" stroke="#000" stroke-width="0.76"/>
<text x="502.79" y="259.30" font-size="9.79" textLength="11.63" lengthAdjust="spacingAndGlyphs">10</text>
<text x="515.03" y="256.07" font-size="6.85" textLength="9.43" lengthAdjust="spacingAndGlyphs">−6</text>
<line x1="529.60" y1="264.43" x2="531.50" y2="264.43" stroke="#000" stroke-width="0.57"/>
<line x1="529.60" y1="269.69" x2="531.50" y2="269.69" stroke="#000" stroke-width="0.57"/>
<line x1="529.60" y1="273.42" x2="531.50" y2="273.42" stroke="#000" stroke-width="0.57"/>
<line x1="529.60" y1="276.31" x2="531.50" y2="276.31" stroke="#000" stroke-width="0.57"/>
<line x1="529.60" y1="278.67" x2="531.50" y2="278.67" stroke="#000" stroke-width="0.57"/>
<line x1="529.60" y1="280.67" x2="531.50" y2="280.67" stroke="#000" stroke-width="0.57"/>
<line x1="529.60" y1="282.40" x2="531.50" y2="282.40" stroke="#000" stroke-width="0.57"/>
<line x1="529.60" y1="283.93" x2="531.50" y2="283.93" stroke="#000" stroke-width="0.57"/>
<line x1="528.17" y1="285.29" x2="531.50" y2="285.29" stroke="#000" stroke-width="0.76"/>
<text x="502.79" y="289.14" font-size="9.79" textLength="11.63" lengthAdjust="spacingAndGlyphs">10</text>
<text x="515.03" y="285.92" font-size="6.85" textLength="9.26" lengthAdjust="spacingAndGlyphs">−5</text>
<line x1="529.60" y1="294.28" x2="531.50" y2="294.28" stroke="#000" stroke-width="0.57"/>
<line x1="529.60" y1="299.53" x2="531.50" y2="299.53" stroke="#000" stroke-width="0.57"/>
<line x1="529.60" y1="303.26" x2="531.50" y2="303.26" stroke="#000" stroke-width="0.57"/>
<line x1="529.60" y1="306.15" x2="531.50" y2="306.15" stroke="#000" stroke-width="0.57"/>
<line x1="529.60" y1="308.52" x2="531.50" y2="308.52" stroke="#000" stroke-width="0.57"/>
<line x1="529.60" y1="310.51" x2="531.50" y2="310.51" stroke="#000" stroke-width="0.57"/>
<line x1="529.60" y1="312.25" x2="531.50" y2="312.25" stroke="#000" stroke-width="0.57"/>
<line x1="529.60" y1="313.77" x2="531.50" y2="313.77" stroke="#000" stroke-width="0.57"/>
<line x1="528.17" y1="315.14" x2="531.50" y2="315.14" stroke="#000" stroke-width="0.76"/>
<text x="502.79" y="318.99" font-size="9.79" textLength="11.63" lengthAdjust="spacingAndGlyphs">10</text>
<text x="515.03" y="315.76" font-size="6.85" textLength="9.36" lengthAdjust="spacingAndGlyphs">−4</text>
<line x1="529.60" y1="324.12" x2="531.50" y2="324.12" stroke="#000" stroke-width="0.57"/>
<line x1="529.60" y1="329.38" x2="531.50" y2="329.38" stroke="#000" stroke-width="0.57"/>
<line x1="529.60" y1="333.11" x2="531.50" y2="333.11" stroke="#000" stroke-width="0.57"/>
<line x1="529.60" y1="336.00" x2="531.50" y2="336.00" stroke="#000" stroke-width="0.57"/>
<line x1="529.60" y1="338.36" x2="531.50" y2="338.36" stroke="#000" stroke-width="0.57"/>
<line x1="529.60" y1="340.36" x2="531.50" y2="340.36" stroke="#000" stroke-width="0.57"/>
<line x1="529.60" y1="342.09" x2="531.50" y2="342.09" stroke="#000" stroke-width="0.57"/>
<line x1="529.60" y1="343.62" x2="531.50" y2="343.62" stroke="#000" stroke-width="0.57"/>
<line x1="528.17" y1="344.98" x2="531.50" y2="344.98" stroke="#000" stroke-width="0.76"/>
<text x="502.79" y="348.83" font-size="9.79" textLength="11.63" lengthAdjust="spacingAndGlyphs">10</text>
<text x="515.03" y="345.60" font-size="6.85" textLength="9.33" lengthAdjust="spacingAndGlyphs">−3</text>
<line x1="529.60" y1="353.97" x2="531.50" y2="353.97" stroke="#000" stroke-width="0.57"/>
<line x1="529.60" y1="359.22" x2="531.50" y2="359.22" stroke="#000" stroke-width="0.57"/>
<line x1="529.60" y1="362.95" x2="531.50" y2="362.95" stroke="#000" stroke-width="0.57"/>
<line x1="529.60" y1="365.84" x2="531.50" y2="365.84" stroke="#000" stroke-width="0.57"/>
<line x1="529.60" y1="368.20" x2="531.50" y2="368.20" stroke="#000" stroke-width="0.57"/>
<line x1="529.60" y1="370.20" x2="531.50" y2="370.20" stroke="#000" stroke-width="0.57"/>
<line x1="529.60" y1="371.93" x2="531.50" y2="371.93" stroke="#000" stroke-width="0.57"/>
<line x1="529.60" y1="373.46" x2="531.50" y2="373.46" stroke="#000" stroke-width="0.57"/>
<line x1="528.17" y1="374.82" x2="531.50" y2="374.82" stroke="#000" stroke-width="0.76"/>
<text x="502.79" y="378.68" font-size="9.79" textLength="11.63" lengthAdjust="spacingAndGlyphs">10</text>
<text x="515.03" y="375.45" font-size="6.85" textLength="9.24" lengthAdjust="spacingAndGlyphs">−2</text>
<line x1="529.60" y1="383.81" x2="531.50" y2="383.81" stroke="#000" stroke-width="0.57"/>
<line x1="529.60" y1="389.06" x2="531.50" y2="389.06" stroke="#000" stroke-width="0.57"/>
<line x1="529.60" y1="392.79" x2="531.50" y2="392.79" stroke="#000" stroke-width="0.57"/>
<line x1="529.60" y1="395.68" x2="531.50" y2="395.68" stroke="#000" stroke-width="0.57"/>
<line x1="529.60" y1="398.05" x2="531.50" y2="398.05" stroke="#000" stroke-width="0.57"/>
<line x1="529.60" y1="400.05" x2="531.50" y2="400.05" stroke="#000" stroke-width="0.57"/>
<line x1="529.60" y1="401.78" x2="531.50" y2="401.78" stroke="#000" stroke-width="0.57"/>
<line x1="529.60" y1="403.30" x2="531.50" y2="403.30" stroke="#000" stroke-width="0.57"/>
<line x1="528.17" y1="404.67" x2="531.50" y2="404.67" stroke="#000" stroke-width="0.76"/>
<text x="502.79" y="408.52" font-size="9.79" textLength="11.63" lengthAdjust="spacingAndGlyphs">10</text>
<text x="515.03" y="405.29" font-size="6.85" textLength="9.29" lengthAdjust="spacingAndGlyphs">−1</text>
<line x1="529.60" y1="413.65" x2="531.50" y2="413.65" stroke="#000" stroke-width="0.57"/>
<line x1="529.60" y1="418.91" x2="531.50" y2="418.91" stroke="#000" stroke-width="0.57"/>
<line x1="529.60" y1="422.64" x2="531.50" y2="422.64" stroke="#000" stroke-width="0.57"/>
<line x1="529.60" y1="425.53" x2="531.50" y2="425.53" stroke="#000" stroke-width="0.57"/>
<line x1="529.60" y1="427.89" x2="531.50" y2="427.89" stroke="#000" stroke-width="0.57"/>
<line x1="529.60" y1="429.89" x2="531.50" y2="429.89" stroke="#000" stroke-width="0.57"/>
<line x1="529.60" y1="431.62" x2="531.50" y2="431.62" stroke="#000" stroke-width="0.57"/>
<line x1="529.60" y1="433.15" x2="531.50" y2="433.15" stroke="#000" stroke-width="0.57"/>
<line x1="528.17" y1="434.51" x2="531.50" y2="434.51" stroke="#000" stroke-width="0.76"/>
<text x="508.79" y="438.36" font-size="9.79" textLength="11.63" lengthAdjust="spacingAndGlyphs">10</text>
<text x="520.90" y="435.13" font-size="6.85" textLength="3.88" lengthAdjust="spacingAndGlyphs">0</text>
<line x1="529.60" y1="443.50" x2="531.50" y2="443.50" stroke="#000" stroke-width="0.57"/>
<line x1="529.60" y1="448.75" x2="531.50" y2="448.75" stroke="#000" stroke-width="0.57"/>
<line x1="529.60" y1="452.48" x2="531.50" y2="452.48" stroke="#000" stroke-width="0.57"/>
<line x1="529.60" y1="455.37" x2="531.50" y2="455.37" stroke="#000" stroke-width="0.57"/>
<line x1="529.60" y1="457.74" x2="531.50" y2="457.74" stroke="#000" stroke-width="0.57"/>
<line x1="529.60" y1="459.73" x2="531.50" y2="459.73" stroke="#000" stroke-width="0.57"/>
<line x1="529.60" y1="461.46" x2="531.50" y2="461.46" stroke="#000" stroke-width="0.57"/>
<line x1="529.60" y1="462.99" x2="531.50" y2="462.99" stroke="#000" stroke-width="0.57"/>
<line x1="528.17" y1="464.36" x2="531.50" y2="464.36" stroke="#000" stroke-width="0.76"/>
<text x="508.79" y="468.21" font-size="9.79" textLength="11.63" lengthAdjust="spacingAndGlyphs">10</text>
<text x="520.95" y="464.98" font-size="6.85" textLength="3.72" lengthAdjust="spacingAndGlyphs">1</text>
<line x1="529.60" y1="473.34" x2="531.50" y2="473.34" stroke="#000" stroke-width="0.57"/>
<line x1="529.60" y1="478.60" x2="531.50" y2="478.60" stroke="#000" stroke-width="0.57"/>
<line x1="529.60" y1="482.32" x2="531.50" y2="482.32" stroke="#000" stroke-width="0.57"/>
<line x1="529.60" y1="485.22" x2="531.50" y2="485.22" stroke="#000" stroke-width="0.57"/>
<line x1="529.60" y1="487.58" x2="531.50" y2="487.58" stroke="#000" stroke-width="0.57"/>
<line x1="529.60" y1="489.58" x2="531.50" y2="489.58" stroke="#000" stroke-width="0.57"/>
<line x1="529.60" y1="491.31" x2="531.50" y2="491.31" stroke="#000" stroke-width="0.57"/>
<line x1="529.60" y1="492.83" x2="531.50" y2="492.83" stroke="#000" stroke-width="0.57"/>
<line x1="528.17" y1="494.20" x2="531.50" y2="494.20" stroke="#000" stroke-width="0.76"/>
<text x="508.79" y="498.05" font-size="9.79" textLength="11.63" lengthAdjust="spacingAndGlyphs">10</text>
<text x="520.88" y="494.82" font-size="6.85" textLength="3.75" lengthAdjust="spacingAndGlyphs">2</text>
<line x1="545.78" y1="494.20" x2="545.78" y2="497.52" stroke="#000" stroke-width="0.76"/>
<text x="533.92" y="508.05" font-size="9.79" textLength="23.74" lengthAdjust="spacingAndGlyphs">1000</text>
<line x1="581.50" y1="494.20" x2="581.50" y2="497.52" stroke="#000" stroke-width="0.76"/>
<text x="569.64" y="508.05" font-size="9.79" textLength="23.74" lengthAdjust="spacingAndGlyphs">1500</text>
<line x1="617.21" y1="494.20" x2="617.21" y2="497.52" stroke="#000" stroke-width="0.76"/>
<text x="605.28" y="508.05" font-size="9.79" textLength="23.81" lengthAdjust="spacingAndGlyphs">2000</text>
<line x1="652.92" y1="494.20" x2="652.92" y2="497.52" stroke="#000" stroke-width="0.76"/>
<text x="640.99" y="508.05" font-size="9.79" textLength="23.81" lengthAdjust="spacingAndGlyphs">2500</text>
<line x1="688.63" y1="494.20" x2="688.63" y2="497.52" stroke="#000" stroke-width="0.76"/>
<text x="676.87" y="508.05" font-size="9.79" textLength="23.64" lengthAdjust="spacingAndGlyphs">3000</text>
<rect x="43.50" y="5.50" width="430.00" height="238.40" fill="none" stroke="#000" stroke-width="0.76"/>
<rect x="43.50" y="255.45" width="430.00" height="238.75" fill="none" stroke="#000" stroke-width="0.76"/>
<rect x="531.50" y="5.50" width="185.70" height="238.40" fill="none" stroke="#000" stroke-width="0.76"/>
<rect x="531.50" y="255.45" width="185.70" height="238.75" fill="none" stroke="#000" stroke-width="0.76"/>
<text x="203.49" y="523.10" font-size="13.29" textLength="11.99" lengthAdjust="spacingAndGlyphs">W</text>
<text x="215.10" y="523.10" font-size="13.29" textLength="64.21" lengthAdjust="spacingAndGlyphs">avelength</text>
<text x="283.53" y="523.10" font-size="13.29" textLength="4.34" lengthAdjust="spacingAndGlyphs">/</text>
<text x="292.07" y="523.10" font-size="13.29" textLength="20.46" lengthAdjust="spacingAndGlyphs">μm</text>
<text x="573.34" y="523.05" font-size="13.29" textLength="8.58" lengthAdjust="spacingAndGlyphs">T</text>
<text x="579.50" y="523.05" font-size="13.29" textLength="75.79" lengthAdjust="spacingAndGlyphs">emperature</text>
<text x="659.44" y="523.05" font-size="13.29" textLength="4.34" lengthAdjust="spacingAndGlyphs">/</text>
<text x="668.06" y="523.05" font-size="13.29" textLength="8.66" lengthAdjust="spacingAndGlyphs">K</text>
<g transform="translate(9.90,125.10) rotate(-90)">
<text x="-54.84" y="0.00" font-size="13.29" textLength="8.58" lengthAdjust="spacingAndGlyphs">T</text>
<text x="-48.33" y="0.00" font-size="13.29" textLength="36.32" lengthAdjust="spacingAndGlyphs">ransit</text>
<text x="-7.65" y="0.00" font-size="13.29" textLength="37.27" lengthAdjust="spacingAndGlyphs">depth</text>
<text x="33.83" y="0.00" font-size="13.29" textLength="4.34" lengthAdjust="spacingAndGlyphs">/</text>
<text x="42.50" y="0.00" font-size="13.29" textLength="11.76" lengthAdjust="spacingAndGlyphs">%</text>
</g>
<g transform="translate(9.90,375.22) rotate(-90)">
<text x="-54.84" y="0.00" font-size="13.29" textLength="8.58" lengthAdjust="spacingAndGlyphs">T</text>
<text x="-48.33" y="0.00" font-size="13.29" textLength="36.32" lengthAdjust="spacingAndGlyphs">ransit</text>
<text x="-7.65" y="0.00" font-size="13.29" textLength="37.27" lengthAdjust="spacingAndGlyphs">depth</text>
<text x="33.83" y="0.00" font-size="13.29" textLength="4.34" lengthAdjust="spacingAndGlyphs">/</text>
<text x="42.50" y="0.00" font-size="13.29" textLength="11.76" lengthAdjust="spacingAndGlyphs">%</text>
</g>
<g transform="translate(496.40,124.10) rotate(-90)">
<text x="-44.31" y="0.00" font-size="13.29" textLength="54.79" lengthAdjust="spacingAndGlyphs">Pressure</text>
<text x="14.66" y="0.00" font-size="13.29" textLength="4.34" lengthAdjust="spacingAndGlyphs">/</text>
<text x="23.31" y="0.00" font-size="13.29" textLength="21.36" lengthAdjust="spacingAndGlyphs">bar</text>
</g>
<g transform="translate(496.40,374.22) rotate(-90)">
<text x="-44.31" y="0.00" font-size="13.29" textLength="54.79" lengthAdjust="spacingAndGlyphs">Pressure</text>
<text x="14.66" y="0.00" font-size="13.29" textLength="4.34" lengthAdjust="spacingAndGlyphs">/</text>
<text x="23.31" y="0.00" font-size="13.29" textLength="21.36" lengthAdjust="spacingAndGlyphs">bar</text>
</g>
<line x1="129.00" y1="21.25" x2="152.00" y2="21.25" stroke="#d4578c" stroke-width="1.40"/>
<text x="159.86" y="24.90" font-size="10.92" textLength="31.14" lengthAdjust="spacingAndGlyphs">ATMO</text>
<text x="194.53" y="24.90" font-size="10.92" textLength="63.42" lengthAdjust="spacingAndGlyphs">equilibrium,</text>
<text x="261.58" y="24.90" font-size="10.92" font-style="italic" textLength="6.13" lengthAdjust="spacingAndGlyphs">χ</text>
<text x="268.18" y="20.69" font-size="7.64" textLength="4.16" lengthAdjust="spacingAndGlyphs">2</text>
<text x="273.05" y="24.90" font-size="10.92" textLength="3.59" lengthAdjust="spacingAndGlyphs">/</text>
<text x="276.59" y="24.90" font-size="10.92" font-style="italic" textLength="7.71" lengthAdjust="spacingAndGlyphs">N</text>
<text x="287.11" y="24.90" font-size="10.92" textLength="7.99" lengthAdjust="spacingAndGlyphs">=</text>
<text x="297.86" y="24.90" font-size="10.92" textLength="26.85" lengthAdjust="spacingAndGlyphs">1.33,</text>
<text x="328.16" y="24.90" font-size="10.92" textLength="20.34" lengthAdjust="spacingAndGlyphs">M/H</text>
<text x="352.48" y="24.90" font-size="10.92" textLength="7.99" lengthAdjust="spacingAndGlyphs">=</text>
<text x="364.48" y="24.90" font-size="10.92" textLength="12.45" lengthAdjust="spacingAndGlyphs">x1</text>
<text x="380.96" y="24.90" font-size="10.92" textLength="29.07" lengthAdjust="spacingAndGlyphs">solar,</text>
<text x="413.40" y="24.90" font-size="10.92" textLength="19.22" lengthAdjust="spacingAndGlyphs">C/O</text>
<text x="436.55" y="24.90" font-size="10.92" textLength="7.99" lengthAdjust="spacingAndGlyphs">=</text>
<text x="448.60" y="24.90" font-size="10.92" textLength="9.84" lengthAdjust="spacingAndGlyphs">0.</text>
<text x="457.94" y="24.90" font-size="10.92" textLength="6.09" lengthAdjust="spacingAndGlyphs">7</text>
<line x1="128.20" y1="271.55" x2="151.10" y2="271.55" stroke="#f5b400" stroke-width="1.40"/>
<text x="159.09" y="274.90" font-size="10.92" textLength="39.03" lengthAdjust="spacingAndGlyphs">PICASO</text>
<text x="202.07" y="274.90" font-size="10.92" textLength="7.99" lengthAdjust="spacingAndGlyphs">+</text>
<text x="213.92" y="274.90" font-size="10.92" textLength="36.56" lengthAdjust="spacingAndGlyphs">VIRGA,</text>
<text x="254.27" y="274.90" font-size="10.92" font-style="italic" textLength="6.13" lengthAdjust="spacingAndGlyphs">χ</text>
<text x="260.88" y="270.69" font-size="7.64" textLength="4.16" lengthAdjust="spacingAndGlyphs">2</text>
<text x="265.75" y="274.90" font-size="10.92" textLength="3.59" lengthAdjust="spacingAndGlyphs">/</text>
<text x="269.28" y="274.90" font-size="10.92" font-style="italic" textLength="7.71" lengthAdjust="spacingAndGlyphs">N</text>
<text x="279.80" y="274.90" font-size="10.92" textLength="7.99" lengthAdjust="spacingAndGlyphs">=</text>
<text x="290.53" y="274.90" font-size="10.92" textLength="26.87" lengthAdjust="spacingAndGlyphs">0.98,</text>
<text x="320.85" y="274.90" font-size="10.92" textLength="20.34" lengthAdjust="spacingAndGlyphs">M/H</text>
<text x="345.17" y="274.90" font-size="10.92" textLength="7.99" lengthAdjust="spacingAndGlyphs">=</text>
<text x="357.17" y="274.90" font-size="10.92" textLength="19.22" lengthAdjust="spacingAndGlyphs">x81</text>
<text x="380.41" y="274.90" font-size="10.92" textLength="29.07" lengthAdjust="spacingAndGlyphs">solar,</text>
<text x="412.85" y="274.90" font-size="10.92" textLength="19.22" lengthAdjust="spacingAndGlyphs">C/O</text>
<text x="436.00" y="274.90" font-size="10.92" textLength="7.99" lengthAdjust="spacingAndGlyphs">=</text>
<text x="448.05" y="274.90" font-size="10.92" textLength="16.52" lengthAdjust="spacingAndGlyphs">0.6</text>
</svg>
</body></html>
